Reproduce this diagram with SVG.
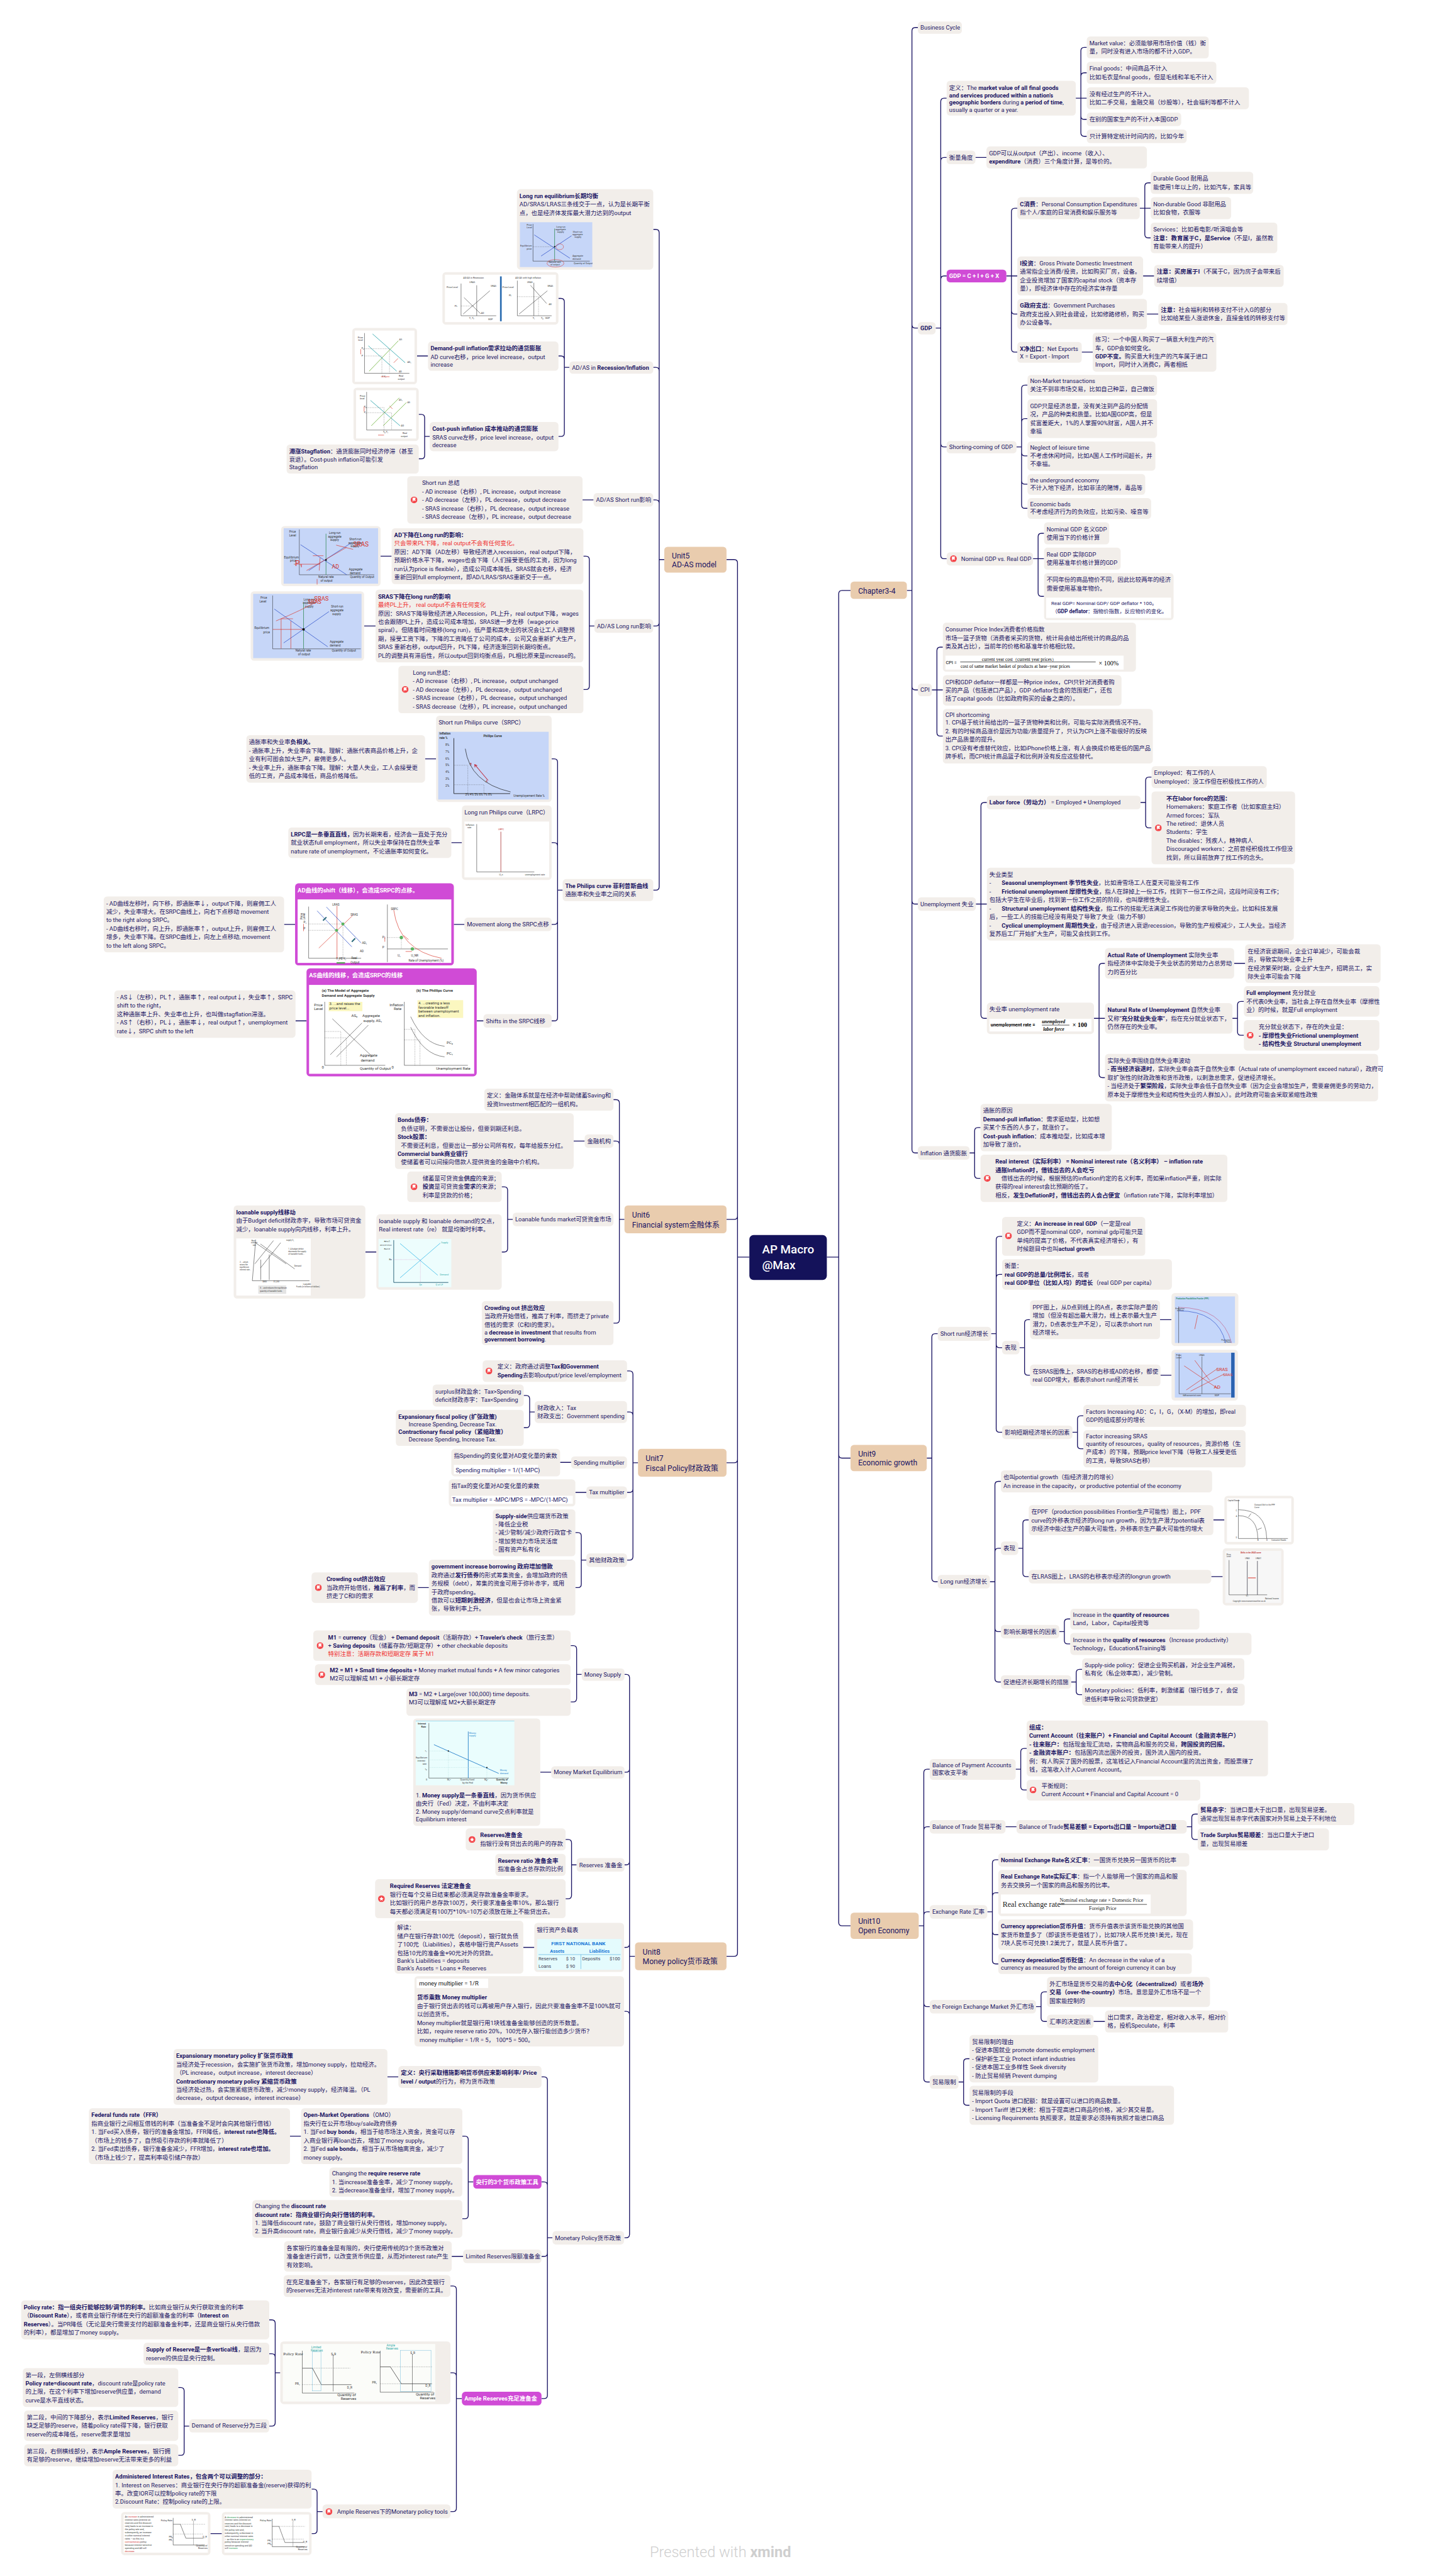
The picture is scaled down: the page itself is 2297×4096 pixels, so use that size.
<svg xmlns="http://www.w3.org/2000/svg" width="2297" height="4096" viewBox="0 0 2297 4096">
<style>
text{font-family:Roboto,"Noto Sans CJK SC",sans-serif;font-size:14px;fill:#1a1464}
.b{font-weight:700}
.n,.u,.p{rx:8px}
.n{fill:#f2eeea}.u{fill:#e9ccae}.p{fill:#d04bd6}
text.w,.w text{fill:#fff;font-weight:700}
.c{fill:none;stroke:#1a1464;stroke-width:2}
.r,text.r{fill:#f03030}
.h{font-size:18px}
.g text{fill:#333}
.f4 text,text.f4{font-size:4.5px}.f5 text,text.f5{font-size:5.5px}.f7 text,text.f7{font-size:7px}.f8 text,text.f8{font-size:8px}.f9 text,text.f9{font-size:9px}
.l{fill:none;stroke:#222;stroke-width:.8}.d{fill:none;stroke:#444;stroke-width:.6;stroke-dasharray:2 2}
.bl{fill:none;stroke:#2b4fc9;stroke-width:1.1}.gr{fill:none;stroke:#1b7d3a;stroke-width:1}.rd{fill:none;stroke:#d8352a;stroke-width:1}.te{fill:none;stroke:#2fa7ad;stroke-width:1.3}.lg{fill:none;stroke:#79b84a;stroke-width:1.3}
</style>
<defs>
<symbol id="flag" viewBox="0 0 16 16"><circle cx="8" cy="8" r="8" fill="#f4474b"/><path d="M5 12.500V3.500H11.500L10 6.500L11.500 9.500H5" fill="#fff" stroke="#fff"/></symbol>
<symbol id="star" viewBox="0 0 16 16"><circle cx="8" cy="8" r="8" fill="#f4474b"/><path d="M8 3l1.500 3.300 3.500.4-2.600 2.400.7 3.500L8 10.900 4.900 12.600l.7-3.500L3 6.700l3.500-.4z" fill="#fff"/></symbol>
</defs>
<rect width="2297" height="4096" fill="#fff"/>
<g transform="scale(0.673)">
<g id="connectors" class="c">
<path d="M1953 2970H1981M1981 1403V4542M2009 1395H1989Q1981 1395 1981 1403M1981 4542Q1981 4550 1989 4550H2009M1981 3437Q1981 3445 1989 3445H2009M1770 2970H1742M1742 1330V4614M1716 1322H1734Q1742 1322 1742 1330M1742 4614Q1742 4622 1734 4622H1716M1742 2873Q1742 2881 1734 2881H1716M1742 3448Q1742 3456 1734 3456H1716"/>
<path d="M2142 1395H2154M2154 73V2716M2168 65H2162Q2154 65 2154 73M2154 2716Q2154 2724 2162 2724H2168M2154 767Q2154 775 2162 775H2168M2154 1622Q2154 1630 2162 1630H2168M2154 2128Q2154 2136 2162 2136H2168"/>
<path d="M2210 775H2222M2222 240V1312M2236 232H2230Q2222 232 2222 240M2222 1312Q2222 1320 2230 1320H2236M2222 380Q2222 372 2230 372H2236M2222 660Q2222 652 2230 652H2236M2222 1048Q2222 1056 2230 1056H2236"/>
<path d="M2541 232H2567M2553 120V314M2567 112H2561Q2553 112 2553 120M2553 314Q2553 322 2561 322H2567M2553 180Q2553 172 2561 172H2567M2553 274Q2553 282 2561 282H2567"/>
<path d="M2304 372H2330M2377 652H2403M2389 500V824M2403 492H2397Q2389 492 2389 500M2389 824Q2389 832 2397 832H2403M2389 734Q2389 742 2397 742H2403"/>
<path d="M2692 492H2718M2704 440V554M2718 432H2712Q2704 432 2704 440M2704 554Q2704 562 2712 562H2718M2700 652H2726M2709 742H2736M2555 832H2581"/>
<path d="M2401 1056H2413M2413 918V1193M2427 910H2421Q2413 910 2413 918M2413 1193Q2413 1201 2421 1201H2427M2413 997Q2413 989 2421 989H2427M2413 1069Q2413 1077 2421 1077H2427M2413 1136Q2413 1144 2421 1144H2427"/>
<path d="M2440 1320H2466M2452 1268V1401M2466 1260H2460Q2452 1260 2452 1268M2452 1401Q2452 1409 2460 1409H2466"/>
<path d="M2201 1630H2227M2213 1537V1731M2227 1529H2221Q2213 1529 2213 1537M2213 1731Q2213 1739 2221 1739H2227"/>
<path d="M2305 2136H2331M2317 1904V2398M2331 1896H2325Q2317 1896 2317 1904M2317 2398Q2317 2406 2325 2406H2331"/>
<path d="M2694 1896H2706M2706 1844V1948M2720 1836H2714Q2706 1836 2706 1844M2706 1948Q2706 1956 2714 1956H2720"/>
<path d="M2584 2406H2610M2596 2284V2538M2610 2276H2604Q2596 2276 2596 2284M2596 2538Q2596 2546 2604 2546H2610M2915 2276H2941"/>
<path d="M2911 2406H2923M2923 2374V2438M2938 2366H2931Q2923 2366 2923 2374M2923 2438Q2923 2446 2931 2446H2938"/>
<path d="M2290 2724H2302M2302 2672V2776M2316 2664H2310Q2302 2664 2302 2672M2302 2776Q2302 2784 2310 2784H2316"/>
<path d="M2189 3445H2201M2201 3159V3729M2215 3151H2209Q2201 3151 2201 3159M2201 3729Q2201 3737 2209 3737H2215"/>
<path d="M2341 3151H2353M2353 2929V3376M2367 2921H2361Q2353 2921 2353 2929M2353 3376Q2353 3384 2361 3384H2367M2353 3019Q2353 3011 2361 3011H2367M2353 3176Q2353 3184 2361 3184H2367"/>
<path d="M2408 3184H2420M2420 3126V3241M2433 3118H2428Q2420 3118 2420 3126M2420 3241Q2420 3249 2428 3249H2433M2740 3118H2767M2741 3249H2767"/>
<path d="M2533 3384H2545M2545 3353V3415M2559 3345H2553Q2545 3345 2545 3353M2545 3415Q2545 3423 2553 3423H2559"/>
<path d="M2338 3737H2350M2350 3508V3966M2364 3500H2358Q2350 3500 2350 3508M2350 3966Q2350 3974 2358 3974H2364M2350 3666Q2350 3658 2358 3658H2364M2350 3847Q2350 3855 2358 3855H2364"/>
<path d="M2405 3658H2416M2416 3599V3717M2430 3591H2424Q2416 3591 2416 3599M2416 3717Q2416 3725 2424 3725H2430M2866 3591H2892M2861 3725H2888"/>
<path d="M2502 3855H2514M2514 3833V3876M2528 3825H2522Q2514 3825 2514 3833M2514 3876Q2514 3884 2522 3884H2528"/>
<path d="M2530 3974H2542M2542 3952V3996M2556 3944H2550Q2542 3944 2542 3952M2542 3996Q2542 4004 2550 4004H2556"/>
<path d="M2170 4550H2182M2182 4188V4911M2196 4180H2190Q2182 4180 2182 4188M2182 4911Q2182 4919 2190 4919H2196M2182 4324Q2182 4316 2190 4316H2196M2182 4525Q2182 4517 2190 4517H2196M2182 4733Q2182 4741 2190 4741H2196"/>
<path d="M2399 4180H2411M2411 4139V4221M2425 4131H2419Q2411 4131 2411 4139M2411 4221Q2411 4229 2419 4229H2425"/>
<path d="M2375 4316H2401M2803 4316H2815M2815 4294V4338M2829 4286H2823Q2815 4286 2815 4294M2815 4338Q2815 4346 2823 4346H2829"/>
<path d="M2332 4517H2344M2344 4402V4632M2358 4394H2352Q2344 4394 2344 4402M2344 4632Q2344 4640 2352 4640H2358M2344 4480Q2344 4472 2352 4472H2358M2344 4563Q2344 4571 2352 4571H2358"/>
<path d="M2447 4741H2459M2459 4714V4768M2473 4706H2467Q2459 4706 2459 4714M2459 4768Q2459 4776 2467 4776H2473M2583 4776H2610"/>
<path d="M2264 4919H2276M2276 4872V4966M2290 4864H2284Q2276 4864 2276 4872M2276 4966Q2276 4974 2284 4974H2290"/>
<path d="M1569 1322H1557M1557 550V2095M1543 542H1549Q1557 542 1557 550M1557 2095Q1557 2103 1549 2103H1543M1557 876Q1557 868 1549 868H1543M1557 1189Q1557 1181 1549 1181H1543M1557 1471Q1557 1479 1549 1479H1543"/>
<path d="M1345 868H1333M1333 713V1023M1319 705H1325Q1333 705 1333 713M1333 1023Q1333 1031 1325 1031H1319M1333 849Q1333 841 1325 841H1319M1011 841H985"/>
<path d="M1015 1031H1003M1003 987V1076M989 979H995Q1003 979 1003 987M1003 1076Q1003 1084 995 1084H989M1402 1181H1376"/>
<path d="M1404 1479H1392M1392 1322V1621M1378 1314H1384Q1392 1314 1392 1322M1392 1621Q1392 1629 1384 1629H1378M925 1314H899M887 1479H860"/>
<path d="M1329 2103H1317M1317 1801V2404M1303 1793H1309Q1317 1793 1317 1801M1317 2404Q1317 2412 1309 2412H1303M1317 1999Q1317 1991 1309 1991H1303M1317 2176Q1317 2184 1309 2184H1303"/>
<path d="M1030 1793H1004M1091 1991H1066M1097 2184H1072M697 2184H671M1142 2412H1126M724 2412H698"/>
<path d="M1475 2881H1463M1463 2606V3118M1449 2598H1455Q1463 2598 1463 2606M1463 3118Q1463 3126 1455 3126H1449M1463 2704Q1463 2696 1455 2696H1449M1381 2696H1355"/>
<path d="M1211 2881H1199M1199 2812V2950M1185 2804H1191Q1199 2804 1199 2812M1199 2950Q1199 2958 1191 2958H1185M889 2958H863"/>
<path d="M1507 3456H1495M1495 3247V3678M1481 3239H1487Q1495 3239 1495 3247M1495 3678Q1495 3686 1487 3686H1481M1495 3344Q1495 3336 1487 3336H1481M1495 3518Q1495 3526 1487 3526H1481"/>
<path d="M1263 3336H1251M1251 3305V3365M1237 3297H1243Q1251 3297 1251 3305M1251 3365Q1251 3373 1243 3373H1237M1349 3455H1323M1385 3526H1359"/>
<path d="M1385 3686H1373M1373 3629V3743M1359 3621H1365Q1373 3621 1373 3629M1373 3743Q1373 3751 1365 3751H1359M1013 3751H987"/>
<path d="M1500 4622H1487M1487 3964V5279M1475 3956H1479Q1487 3956 1487 3964M1487 5279Q1487 5287 1479 5287H1475M1487 4179Q1487 4187 1479 4187H1475M1487 4398Q1487 4406 1479 4406H1475M1487 4593Q1487 4601 1479 4601H1475M1487 4760Q1487 4752 1479 4752H1475"/>
<path d="M1374 3956H1362M1362 3896V4013M1348 3888H1354Q1362 3888 1362 3896M1362 4013Q1362 4021 1354 4021H1348M1302 4187H1276"/>
<path d="M1362 4406H1350M1350 4354V4478M1336 4346H1342Q1350 4346 1350 4354M1350 4478Q1350 4486 1342 4486H1336M1262 4601H1236"/>
<path d="M1305 5287H1293M1293 4915V5659M1279 4907H1285Q1293 4907 1293 4915M1293 5659Q1293 5667 1285 5667H1279M1293 5163Q1293 5155 1285 5155H1279M1293 5323Q1293 5331 1285 5331H1279M941 4907H915"/>
<path d="M1118 5155H1106M1106 5055V5234M1092 5047H1098Q1106 5047 1106 5055M1106 5234Q1106 5242 1098 5242H1092M711 5047H685M1094 5331H1067"/>
<path d="M1091 5667H1078M1078 5409V5926M1064 5401H1070Q1078 5401 1078 5409M1078 5926Q1078 5934 1070 5934H1064M1078 5614Q1078 5606 1070 5606H1064"/>
<path d="M662 5606H650M650 5489V5724M636 5481H642Q650 5481 650 5489M650 5724Q650 5732 642 5732H636M650 5569Q650 5561 642 5561H636"/>
<path d="M447 5732H435M435 5649V5793M421 5641H427Q435 5641 435 5649M435 5793Q435 5801 427 5801H421"/>
<path d="M762 5934H749M749 5889V5978M736 5881H741Q749 5881 749 5889M749 5978Q749 5986 741 5986H736M524 5986H497"/>
</g>

<g id="root"><rect x="1770" y="2918" width="183" height="106" rx="10" fill="#14125a"/><text class="w" x="1800" y="2962" style="font-size:28px;font-weight:500">AP Macro</text><text class="w" x="1800" y="2998" style="font-size:28px;font-weight:500">@Max</text></g>

<g id="ch34"><rect class="u" x="2009" y="1374" width="133" height="41"/><text class="h" x="2027" y="1402">Chapter3-4</text></g>
<g id="unit9"><rect class="u" x="2009" y="3414" width="180" height="62"/><text class="h" x="2027" y="3441">Unit9</text><text class="h" x="2027" y="3462">Economic growth</text></g>
<g id="unit10"><rect class="u" x="2009" y="4519" width="161" height="62"/><text class="h" x="2027" y="4546">Unit10</text><text class="h" x="2027" y="4567">Open Economy</text></g>
<g id="unit5"><rect class="u" x="1569" y="1292" width="147" height="61"/><text class="h" x="1587" y="1319">Unit5</text><text class="h" x="1587" y="1340">AD-AS model</text></g>
<g id="unit6"><rect class="u" x="1475" y="2848" width="241" height="66"/><text class="h" x="1493" y="2877">Unit6</text><text class="h" x="1493" y="2900">Financial system金融体系</text></g>
<g id="unit7"><rect class="u" x="1507" y="3423" width="209" height="66"/><text class="h" x="1525" y="3452">Unit7</text><text class="h" x="1525" y="3475">Fiscal Policy财政政策</text></g>
<g id="unit8"><rect class="u" x="1500" y="4589" width="216" height="66"/><text class="h" x="1518" y="4618">Unit8</text><text class="h" x="1518" y="4641">Money policy货币政策</text></g>

<g id="business"><rect class="n" x="2168" y="51" width="104" height="29"/><text x="2174" y="70">Business Cycle</text></g>
<g id="gdp"><rect class="n" x="2168" y="761" width="42" height="29"/><text class="b" x="2174" y="780">GDP</text></g>
<g id="gdp-def"><rect class="n" x="2236" y="191" width="305" height="82"/><text x="2242" y="212">定义：The <tspan class="b">market value of all final goods</tspan></text><text class="b" x="2242" y="230">and services produced within a nation's</text><text x="2242" y="247"><tspan class="b">geographic borders</tspan> during <tspan class="b">a period of time</tspan>,</text><text x="2242" y="265">usually a quarter or a year.</text></g>
<g id="d1"><rect class="n" x="2567" y="86" width="288" height="52"/><text x="2573" y="107">Market value：必须能够用市场价值（钱）衡</text><text x="2573" y="127">量，同时没有进入市场的都不计入GDP。</text></g>
<g id="d2"><rect class="n" x="2567" y="146" width="306" height="52"/><text x="2573" y="167">Final goods：中间商品不计入</text><text x="2573" y="187">比如毛衣是final goods，但是毛线和羊毛不计入</text></g>
<g id="d3"><rect class="n" x="2567" y="206" width="383" height="52"/><text x="2573" y="227">没有经过生产的不计入。</text><text x="2573" y="247">比如二手交易，金融交易（炒股等），社会福利等都不计入</text></g>
<g id="d4"><rect class="n" x="2567" y="266" width="223" height="32"/><text x="2573" y="287">在别的国家生产的不计入本国GDP</text></g>
<g id="d5"><rect class="n" x="2567" y="306" width="236" height="32"/><text x="2573" y="327">只计算特定统计时间内的，比如今年</text></g>
<g id="m1"><rect class="n" x="2236" y="356" width="68" height="32"/><text x="2242" y="377">衡量角度</text></g>
<g id="m2"><rect class="n" x="2330" y="346" width="379" height="52"/><text x="2336" y="367">GDP可以从output（产出）、income（收入）、</text><text x="2336" y="387"><tspan class="b">expenditure</tspan>（消费）三个角度计算，是等价的。</text></g>
<g id="formula"><rect class="p" x="2236" y="637" width="141" height="30"/><text class="w" x="2242" y="657">GDP = C + I + G + X</text></g>
<g id="c1"><rect class="n" x="2403" y="466" width="289" height="52"/><text x="2409" y="487"><tspan class="b">C消费</tspan>：Personal Consumption Expenditures</text><text x="2409" y="507">指个人/家庭的日常消费和娱乐服务等</text></g>
<g id="c2"><rect class="n" x="2718" y="406" width="242" height="52"/><text x="2724" y="427">Durable Good 耐用品</text><text x="2724" y="447">能使用1年以上的，比如汽车，家具等</text></g>
<g id="c3"><rect class="n" x="2718" y="466" width="190" height="52"/><text x="2724" y="487">Non-durable Good 非耐用品</text><text x="2724" y="507">比如食物，衣服等</text></g>
<g id="c4"><rect class="n" x="2718" y="526" width="299" height="72"/><text x="2724" y="547">Services：比如看电影/听演唱会等</text><text x="2724" y="567"><tspan class="b">注意：教育属于C，是Service</tspan>（不是I，虽然教</text><text x="2724" y="587">育能带来人的提升）</text></g>
<g id="i1"><rect class="n" x="2403" y="606" width="297" height="92"/><text x="2409" y="627"><tspan class="b">I投资</tspan>：Gross Private Domestic Investment</text><text x="2409" y="647">通常指企业消费/投资，比如购买厂房，设备。</text><text x="2409" y="667">企业投资增加了国家的capital stock（资本存</text><text x="2409" y="687">量），即经济体中存在的经济实体存量</text></g>
<g id="i2"><rect class="n" x="2726" y="626" width="306" height="52"/><text x="2732" y="647"><tspan class="b">注意：买房属于I</tspan>（不属于C，因为房子会带来后</text><text x="2732" y="667">续增值）</text></g>
<g id="g1"><rect class="n" x="2403" y="706" width="306" height="72"/><text x="2409" y="727"><tspan class="b">G政府支出</tspan>：Government Purchases</text><text x="2409" y="747">政府支出投入到社会建设，比如修路修桥，购买</text><text x="2409" y="767">办公设备等。</text></g>
<g id="g2"><rect class="n" x="2736" y="716" width="305" height="52"/><text x="2742" y="737"><tspan class="b">注意：</tspan>社会福利和转移支付不计入G的部分</text><text x="2742" y="757">比如给某些人涨退休金，直接金钱的转移支付等</text></g>
<g id="x1"><rect class="n" x="2403" y="808" width="152" height="49"/><text x="2409" y="829"><tspan class="b">X净出口</tspan>：Net Exports</text><text x="2409" y="847">X = Export - Import</text></g>
<g id="x2"><rect class="n" x="2581" y="786" width="292" height="92"/><text x="2587" y="807">练习：一个中国人购买了一辆意大利生产的汽</text><text x="2587" y="827">车，GDP会如何变化。</text><text x="2587" y="847"><tspan class="b">GDP不变。</tspan>购买意大利生产的汽车属于进口</text><text x="2587" y="867">Import，同时计入消费C，两者相抵</text></g>
<g id="sh"><rect class="n" x="2236" y="1042" width="165" height="29"/><text x="2242" y="1061">Shorting-coming of GDP</text></g>
<g id="s1"><rect class="n" x="2427" y="886" width="306" height="49"/><text x="2433" y="905">Non-Market transactions</text><text x="2433" y="924">关注不到非市场交易，比如自己种菜，自己做饭</text></g>
<g id="s2"><rect class="n" x="2427" y="943" width="306" height="92"/><text x="2433" y="964">GDP只是经济总量，没有关注到产品的分配情</text><text x="2433" y="984">况，产品的种类和质量。比如A国GDP高，但是</text><text x="2433" y="1004">贫富差距大，1%的人掌握90%财富，A国人并不</text><text x="2433" y="1024">幸福</text></g>
<g id="s3"><rect class="n" x="2427" y="1043" width="302" height="69"/><text x="2433" y="1062">Neglect of leisure time</text><text x="2433" y="1081">不考虑休闲时间，比如A国人工作时间超长，并</text><text x="2433" y="1101">不幸福。</text></g>
<g id="s4"><rect class="n" x="2427" y="1120" width="278" height="49"/><text x="2433" y="1139">the underground economy</text><text x="2433" y="1157">不计入地下经济，比如非法的赌博，毒品等</text></g>
<g id="s5"><rect class="n" x="2427" y="1177" width="292" height="49"/><text x="2433" y="1196">Economic bads</text><text x="2433" y="1214">不考虑经济行为的负效应，比如污染、噪音等</text></g>
<g id="nom"><rect class="n" x="2236" y="1305" width="204" height="31"/><use href="#flag" x="2244" y="1312" width="16" height="16"/><text x="2270" y="1325">Nominal GDP vs. Real GDP</text></g>
<g id="nom1"><rect class="n" x="2466" y="1234" width="154" height="52"/><text x="2472" y="1255">Nominal GDP 名义GDP</text><text x="2472" y="1275">使用当下的价格计算</text></g>
<g id="nom2"><rect class="n" x="2466" y="1294" width="181" height="52"/><text x="2472" y="1315">Real GDP 实际GDP</text><text x="2472" y="1335">使用基准年价格计算的GDP</text></g>
<g id="nom3"><rect class="n" x="2466" y="1354" width="306" height="111"/><text x="2472" y="1375">不同年份的商品物价不同，因此比较两年的经济</text><text x="2472" y="1395">需要使用基准年物价。</text><rect x="2471" y="1412" width="295" height="48" fill="#fff"/><text x="2483" y="1429" style="font-size:12px">Real GDP= Nominal GDP/ GDP deflator * 100。</text><text x="2485" y="1448" style="font-size:12.500px">（<tspan class="b">GDP deflator</tspan>：指物价指数，反应物价的变化。</text></g>
<g id="cpi"><rect class="n" x="2168" y="1615" width="33" height="30"/><text x="2174" y="1635">CPI</text></g>
<g id="cpi1"><rect class="n" x="2227" y="1471" width="456" height="116"/><text x="2233" y="1492">Consumer Price Index消费者价格指数</text><text x="2233" y="1512">市场一篮子货物（消费者采买的货物，统计局会给出所统计的商品的品</text><text x="2233" y="1532">类及其占比），当前年的价格和基准年价格相比较。</text><rect x="2233" y="1549" width="421" height="33" fill="#fff"/><text x="2234" y="1569" style="font-size:11px;fill:#000">CPI =</text><path d="M2268 1564H2588" stroke="#000"/><text x="2319" y="1561" style="font-family:'Liberation Serif',serif;font-size:11px;fill:#000">current year cost（current year prices）</text><text x="2269" y="1578" style="font-family:'Liberation Serif',serif;font-size:11px;fill:#000">cost of same market basket of products at base−year prices</text><text x="2595" y="1572" style="font-family:'Liberation Serif',serif;fill:#000;font-size:15px">× 100%</text></g>
<g id="cpi2"><rect class="n" x="2227" y="1595" width="422" height="72"/><text x="2233" y="1616">CPI和GDP deflator一样都是一种price index，CPI只针对消费者购</text><text x="2233" y="1636">买的产品（包括进口产品），GDP deflator包含的范围更广，还包</text><text x="2233" y="1656">括了capital goods（比如政府购买的设备之类的）。</text></g>
<g id="cpi3"><rect class="n" x="2227" y="1675" width="496" height="129"/><text x="2233" y="1694">CPI shortcoming</text><text x="2233" y="1712">1. CPI基于统计局给出的一篮子货物种类和比例，可能与实际消费情况不符。</text><text x="2233" y="1732">2. 有的时候商品涨价是因为功能/质量提升了，只认为CPI上涨不能很好的反映</text><text x="2233" y="1752">出产品质量的提升。</text><text x="2233" y="1772">3. CPI没有考虑替代效应，比如iPhone价格上涨，有人会换成价格更低的国产品</text><text x="2233" y="1792">牌手机，而CPI统计商品篮子和比例并没有反应这些替代。</text></g>
<g id="un"><rect class="n" x="2168" y="2120" width="137" height="32"/><text x="2174" y="2141">Unemployment 失业</text></g>
<g id="lab"><rect class="n" x="2331" y="1880" width="363" height="32"/><text x="2337" y="1901"><tspan class="b">Labor force（劳动力）</tspan> = Employed + Unemployed</text></g>
<g id="lab1"><rect class="n" x="2720" y="1810" width="272" height="52"/><text x="2726" y="1831">Employed：有工作的人</text><text x="2726" y="1851">Unemployed：没工作但在积极找工作的人</text></g>
<g id="lab2"><rect class="n" x="2720" y="1870" width="339" height="172"/><use href="#flag" x="2728" y="1948" width="16" height="16"/><text class="b" x="2755" y="1891">不在labor force的范围：</text><text x="2755" y="1911">Homemakers：家庭工作者（比如家庭主妇）</text><text x="2755" y="1931">Armed forces：军队</text><text x="2755" y="1951">The retired：退休人员</text><text x="2755" y="1971">Students：学生</text><text x="2755" y="1991">The disables：残疾人，精神病人</text><text x="2755" y="2011">Discouraged workers：之前曾经积极找工作但没</text><text x="2755" y="2031">找到，所以目前放弃了找工作的念头。</text></g>
<g id="ty"><rect class="n" x="2331" y="2050" width="725" height="172"/><text x="2337" y="2071">失业类型</text><text x="2337" y="2091">-</text><text x="2366" y="2091"><tspan class="b">Seasonal unemployment 季节性失业</tspan>，比如滑雪场工人在夏天可能没有工作</text><text x="2337" y="2111">-</text><text x="2366" y="2111"><tspan class="b">Frictional unemployment 摩擦性失业</tspan>，指人在辞掉上一份工作，找到下一份工作之间，这段时间没有工作；</text><text x="2337" y="2131">包括大学生在毕业后，找到第一份工作之前的阶段，也叫摩擦性失业。</text><text x="2337" y="2151">-</text><text x="2366" y="2151"><tspan class="b">Structural unemployment 结构性失业</tspan>，指工作的技能无法满足工作岗位的要求导致的失业。比如科技发展</text><text x="2337" y="2171">后，一些工人的技能已经没有用处了导致了失业（能力不够）</text><text x="2337" y="2191">-</text><text x="2366" y="2191"><tspan class="b">Cyclical unemployment 周期性失业</tspan>，由于经济进入衰退recession，导致的生产规模减少，工人失业。当经济</text><text x="2337" y="2211">复苏后工厂开始扩大生产，可能又会找到工作。</text></g>
<g id="ur"><rect class="n" x="2331" y="2369" width="253" height="74"/><text x="2337" y="2390">失业率 unemployment rate</text><rect x="2337" y="2407" width="241" height="30" fill="#fff"/><text x="2340" y="2425" style="font-size:11px;font-weight:700;fill:#000">unemployment rate =</text><text x="2461" y="2418" style="font-family:'Liberation Serif',serif;font-style:italic;font-weight:700;font-size:11px;fill:#000">unemployed</text><text x="2464" y="2435" style="font-family:'Liberation Serif',serif;font-style:italic;font-weight:700;font-size:11px;fill:#000">labor force</text><path d="M2461 2422H2526" stroke="#000"/><text x="2533" y="2427" style="font-family:'Liberation Serif',serif;font-weight:700;font-size:15px;fill:#000">× 100</text></g>
<g id="ur1"><rect class="n" x="2610" y="2240" width="305" height="72"/><text x="2616" y="2261"><tspan class="b">Actual Rate of Unemployment</tspan> 实际失业率</text><text x="2616" y="2281">指经济体中实际处于失业状态的劳动力占总劳动</text><text x="2616" y="2301">力的百分比</text></g>
<g id="ur1a"><rect class="n" x="2941" y="2231" width="320" height="91"/><text x="2947" y="2252">在经济衰退期间，企业订单减少，可能会裁</text><text x="2947" y="2272">员，导致实际失业率上升</text><text x="2947" y="2292">在经济繁荣时期，企业扩大生产，招聘员工，实</text><text x="2947" y="2312">际失业率可能会下降</text></g>
<g id="ur2"><rect class="n" x="2610" y="2370" width="301" height="72"/><text x="2616" y="2391"><tspan class="b">Natural Rate of Unemployment</tspan> 自然失业率</text><text x="2616" y="2411">又称“<tspan class="b">充分就业失业率</tspan>”，指在充分就业状态下，</text><text x="2616" y="2431">仍然存在的失业率。</text></g>
<g id="ur2a"><rect class="n" x="2938" y="2330" width="320" height="72"/><text x="2944" y="2351"><tspan class="b">Full employment</tspan> 充分就业</text><text x="2944" y="2371">不代表0失业率，当社会上存在自然失业率（摩擦性</text><text x="2944" y="2391">业）的时候，就是Full employment</text></g>
<g id="ur2b"><rect class="n" x="2938" y="2410" width="320" height="72"/><use href="#flag" x="2945" y="2438" width="16" height="16"/><text x="2973" y="2431">充分就业状态下，存在的失业是：</text><text class="b" x="2973" y="2451">- 摩擦性失业Frictional unemployment</text><text class="b" x="2973" y="2471">- 结构性失业 Structural unemployment</text></g>
<g id="ur3"><rect class="n" x="2610" y="2490" width="645" height="112"/><text x="2616" y="2511">实际失业率围绕自然失业率波动</text><text x="2616" y="2531">- <tspan class="b">而当经济衰退时</tspan>，实际失业率会高于自然失业率（Actual rate of unemployment exceed natural），政府可</text><text x="2616" y="2551">取扩张性的财政政策和货币政策，以刺激总需求，促进经济增长。</text><text x="2616" y="2571">- 当经济处于<tspan class="b">繁荣阶段</tspan>，实际失业率会低于自然失业率（因为企业会增加生产，需要雇佣更多的劳动力，</text><text x="2616" y="2591">原本处于摩擦性失业和结构性失业的人群加入）。此时政府可能会采取紧缩性政策</text></g>
<g id="inf"><rect class="n" x="2168" y="2708" width="122" height="32"/><text x="2174" y="2729">Inflation 通货膨胀</text></g>
<g id="inf1"><rect class="n" x="2316" y="2608" width="310" height="112"/><text x="2322" y="2629">通胀的原因</text><text x="2322" y="2649"><tspan class="b">Demand-pull inflation</tspan>：需求驱动型，比如想</text><text x="2322" y="2669">买某个东西的人多了，就涨价了。</text><text x="2322" y="2689"><tspan class="b">Cost-push inflation</tspan>：成本推动型，比如成本增</text><text x="2322" y="2709">加导致了涨价。</text></g>
<g id="inf2"><rect class="n" x="2316" y="2728" width="583" height="112"/><use href="#flag" x="2324" y="2776" width="16" height="16"/><text class="b" x="2351" y="2749">Real interest（实际利率） =  Nominal interest rate（名义利率） – inflation rate</text><text class="b" x="2351" y="2769">通胀Inflation时，借钱出去的人会吃亏</text><text x="2351" y="2789">　借钱出去的时候，根据预估的inflation约定的名义利率，而如果inflation严重，则实际</text><text x="2351" y="2809">获得的real interest会比预期的低了。</text><text x="2351" y="2829">相反，<tspan class="b">发生Deflation时，借钱出去的人会占便宜</tspan>（inflation rate下降，实际利率增加）</text></g>
<g id="sr"><rect class="n" x="2215" y="3135" width="126" height="33"/><text x="2221" y="3156">Short run经济增长</text></g>
<g id="sr1"><rect class="n" x="2367" y="2875" width="338" height="92"/><use href="#flag" x="2374" y="2912" width="16" height="16"/><text x="2402" y="2896">定义：<tspan class="b">An increase in real GDP</tspan>（一定是real</text><text x="2402" y="2916">GDP而不是nominal GDP，nominal gdp可能只是</text><text x="2402" y="2936">单纯的提高了价格，不代表真实经济增长），有</text><text x="2402" y="2956">时候题目中也叫<tspan class="b">actual growth</tspan></text></g>
<g id="sr2"><rect class="n" x="2367" y="2975" width="401" height="72"/><text x="2373" y="2996">衡量：</text><text x="2373" y="3016"><tspan class="b">real GDP的总量/比例增长</tspan>，或者</text><text x="2373" y="3036"><tspan class="b">real GDP单位（比如人均）的增长</tspan>（real GDP per capita）</text></g>
<g id="sr3"><rect class="n" x="2367" y="3168" width="41" height="32"/><text x="2373" y="3189">表现</text></g>
<g id="sr3a"><rect class="n" x="2433" y="3072" width="307" height="92"/><text x="2439" y="3093">PPF图上，从D点到线上的A点，表示实际产量的</text><text x="2439" y="3113">增加（但没有超出最大潜力，线上表示最大生产</text><text x="2439" y="3133">潜力，D点表示生产不足），可以表示short run</text><text x="2439" y="3153">经济增长。</text></g>
<g id="sr3b"><rect class="n" x="2433" y="3224" width="308" height="51"/><text x="2439" y="3245">在SRAS图像上，SRAS的右移或AD的右移，都使</text><text x="2439" y="3265">real GDP增大，都表示short run经济增长</text></g>
<g id="img-ppf1" class="g f4" transform="translate(2767,3055)"><rect class="n" width="158" height="125"/><rect x="8" y="8" width="142" height="110" fill="#c4d6fa"/><text x="11" y="15" style="font-weight:700;fill:#2a8a66">Production Possibilities Frontier (PPF)</text><text x="9" y="38">Production</text><text x="13" y="43">of Pizza</text><text x="118" y="113">Production</text><text x="124" y="117">of Pasta</text><path class="l" d="M17 32V118"/><path d="M17 42Q110 42 128 118" fill="none" stroke="#2b4fc9"/><path d="M17 34Q120 34 142 118" fill="none" stroke="#c2305a" stroke-width=".7"/><path class="rd" d="M55 85L62 52"/></g>
<g id="img-sras" class="g f5" transform="translate(2767,3189)"><rect class="n" width="157" height="120"/><rect x="8" y="7" width="142" height="106" fill="#c4d6fa"/><rect x="141" y="7" width="8" height="106" fill="#2a62b0"/><text x="11" y="15">Price</text><text x="11" y="21">Level</text><text x="65" y="14">LRAS</text><text x="27" y="110">tbEconomist.com</text><text x="102" y="110">GDP</text><path class="l" d="M18 10V104H140"/><path d="M72 16V104" stroke="#333" fill="none" stroke-width=".8"/><path class="rd" d="M30 38L110 92M35 95L108 45M45 98L125 57M55 25L90 72"/><text x="106" y="50" style="font-size:11px;fill:#d8352a">SRAS</text><text x="122" y="62" style="font-size:9px;fill:#d8352a">SRAS</text><text x="100" y="92" style="font-size:12px;fill:#d8352a">AD</text></g>
<g id="sf"><rect class="n" x="2367" y="3368" width="166" height="32"/><text x="2373" y="3389">影响短期经济增长的因素</text></g>
<g id="sf1"><rect class="n" x="2559" y="3319" width="384" height="52"/><text x="2565" y="3340">Factors Increasing AD：C，I，G，（X-M）的增加，即real</text><text x="2565" y="3360">GDP的组成部分的增长</text></g>
<g id="sf2"><rect class="n" x="2559" y="3379" width="383" height="88"/><text x="2565" y="3398">Factor increasing SRAS</text><text x="2565" y="3416">quantity of resources，quality of resources，资源价格（生</text><text x="2565" y="3436">产成本）的下降，预期price level下降（导致工人接受更低</text><text x="2565" y="3456">的工资，导致SRAS右移）</text></g>
<g id="lr"><rect class="n" x="2215" y="3721" width="123" height="32"/><text x="2221" y="3742">Long run经济增长</text></g>
<g id="lr1"><rect class="n" x="2364" y="3474" width="499" height="52"/><text x="2370" y="3495">也叫potential growth（指经济潜力的增长）</text><text x="2370" y="3515">An increase in the capacity，or productive potential of the economy</text></g>
<g id="lr2"><rect class="n" x="2364" y="3642" width="41" height="32"/><text x="2370" y="3663">表现</text></g>
<g id="lr2a"><rect class="n" x="2430" y="3556" width="436" height="71"/><text x="2436" y="3577">在PPF（production possibilities Frontier生产可能性）图上，PPF</text><text x="2436" y="3597">curve的外移表示经济的long run growth，因为生产潜力potential表</text><text x="2436" y="3617">示经济中能过生产的最大可能性，外移表示生产最大可能性的增大</text></g>
<g id="lr2b"><rect class="n" x="2430" y="3709" width="431" height="32"/><text x="2436" y="3730">在LRAS图上，LRAS的右移表示经济的longrun growth</text></g>
<g id="img-ppf2" class="g f4" transform="translate(2892,3534)"><rect class="n" width="164" height="115"/><rect x="6" y="6" width="152" height="103" fill="#fff"/><text x="8" y="13">Capital Goods</text><text x="71" y="23">Outward Shift in the PPF</text><text x="71" y="29">Curve</text><text x="27" y="37">C</text><text x="27" y="50">A</text><text x="27" y="100">0</text><text x="78" y="106">B</text><text x="99" y="106">D</text><text x="111" y="106">Consumer Goods</text><path class="l" d="M33 10V101H150"/><path class="l" d="M33 47Q78 47 79 101M33 33Q98 33 100 101"/><path class="l" d="M57 50L63 42M78 80L88 76"/></g>
<g id="img-lras" class="g f4" transform="translate(2888,3658)"><rect class="n" width="144" height="135"/><rect x="6" y="6" width="132" height="123" fill="#f7f7f7"/><text x="42" y="12" style="fill:#c03030;font-weight:700">Shifts in the LRAS curve</text><text x="9" y="16">Price</text><text x="9" y="21">Level</text><text x="53" y="26">LRAS</text><text x="78" y="26">LRAS1</text><text x="55" y="114">Y1</text><text x="100" y="121">National Income</text><text x="24" y="126">Copyright www.economicsonline.co.uk</text><path class="l" d="M15 28V110H105"/><path d="M58 30V110M82 30V110" stroke="#223" fill="none"/><path d="M60 70H78" stroke="#d8352a" stroke-width="1.500"/></g>
<g id="lf"><rect class="n" x="2364" y="3839" width="138" height="32"/><text x="2370" y="3860">影响长期增长的因素</text></g>
<g id="lf1"><rect class="n" x="2528" y="3801" width="305" height="49"/><text x="2534" y="3820">Increase in the <tspan class="b">quantity of resources</tspan></text><text x="2534" y="3839">Land，Labor，Capital投资等</text></g>
<g id="lf2"><rect class="n" x="2528" y="3858" width="428" height="52"/><text x="2534" y="3879">Increase in the <tspan class="b">quality of resources</tspan>（Increase productivity）</text><text x="2534" y="3899">Technology，Education&amp;Training等</text></g>
<g id="lp"><rect class="n" x="2364" y="3958" width="166" height="32"/><text x="2370" y="3979">促进经济长期增长的措施</text></g>
<g id="lp1"><rect class="n" x="2556" y="3918" width="383" height="52"/><text x="2562" y="3939">Supply-side policy：促进企业购买机器，对企业生产减税，</text><text x="2562" y="3959">私有化（私企效率高），减少管制。</text></g>
<g id="lp2"><rect class="n" x="2556" y="3978" width="384" height="52"/><text x="2562" y="3999">Monetary policies：低利率，刺激储蓄（银行钱多了，会促</text><text x="2562" y="4019">进低利率导致公司贷款便宜）</text></g>
<g id="bop"><rect class="n" x="2196" y="4156" width="203" height="49"/><text x="2202" y="4175">Balance of Payment Accounts</text><text x="2202" y="4193">国家收支平衡</text></g>
<g id="bop1"><rect class="n" x="2425" y="4065" width="570" height="132"/><text class="b" x="2431" y="4086">组成：</text><text class="b" x="2431" y="4106">Current Account（往来账户）+ Financial and Capital Account（金融资本账户）</text><text x="2431" y="4126"><tspan class="b">- 往来账户：</tspan>包括现金现汇流动，实物商品和服务的交易，<tspan class="b">跨国投资的回报。</tspan></text><text x="2431" y="4146"><tspan class="b">- 金融资本账户：</tspan>包括国内流出国外的投资，国外流入国内的投资。</text><text x="2431" y="4166">例：有人购买了国外的股票，这笔钱记入Financial Account里的流出资金，而股票赚了</text><text x="2431" y="4186">钱，这笔收入计入Current Account。</text></g>
<g id="bop2"><rect class="n" x="2425" y="4205" width="410" height="49"/><use href="#flag" x="2432" y="4221" width="16" height="16"/><text x="2460" y="4225">平衡规则：</text><text x="2460" y="4244">Current Account + Financial and Capital Account = 0</text></g>
<g id="bt"><rect class="n" x="2196" y="4300" width="179" height="32"/><text x="2202" y="4321">Balance of Trade 贸易平衡</text></g>
<g id="bt1"><rect class="n" x="2401" y="4300" width="402" height="32"/><text x="2407" y="4321">Balance of Trade<tspan class="b">贸易差额 = Exports出口量 – Imports进口量</tspan></text></g>
<g id="bt2"><rect class="n" x="2829" y="4260" width="370" height="52"/><text x="2835" y="4281"><tspan class="b">贸易赤字</tspan>：当进口量大于出口量，出现贸易逆差。</text><text x="2835" y="4301">通常出现贸易赤字代表国家对外贸易上处于不利地位</text></g>
<g id="bt3"><rect class="n" x="2829" y="4320" width="310" height="52"/><text x="2835" y="4341"><tspan class="b">Trade Surplus贸易顺差</tspan>：当出口量大于进口</text><text x="2835" y="4361">量，出现贸易顺差</text></g>
<g id="er"><rect class="n" x="2196" y="4501" width="136" height="32"/><text x="2202" y="4522">Exchange Rate 汇率</text></g>
<g id="er1"><rect class="n" x="2358" y="4378" width="451" height="32"/><text x="2364" y="4399"><tspan class="b">Nominal Exchange Rate名义汇率</tspan>：一国货币兑换另一国货币的比率</text></g>
<g id="er2"><rect class="n" x="2358" y="4418" width="445" height="109"/><text x="2364" y="4439"><tspan class="b">Real Exchange Rate实际汇率</tspan>：指一个人能够用一个国家的商品和服</text><text x="2364" y="4459">务去交换另一个国家的商品和服务的比率。</text><rect x="2364" y="4476" width="354" height="45" fill="#fff"/><text x="2368" y="4505" style="font-family:'Liberation Serif',serif;font-size:18px;fill:#222">Real exchange rate=</text><text x="2503" y="4494" style="font-family:'Liberation Serif',serif;font-size:12px;fill:#222">Nominal exchange rate × Domestic Price</text><text x="2572" y="4513" style="font-family:'Liberation Serif',serif;font-size:12px;fill:#222">Foreign Price</text><path d="M2503 4499.500H2709" stroke="#000"/></g>
<g id="er3"><rect class="n" x="2358" y="4535" width="460" height="72"/><text x="2364" y="4556"><tspan class="b">Currency appreciation货币升值</tspan>：货币升值表示该货币能兑换的其他国</text><text x="2364" y="4576">家货币数量多了（即该货币更值钱了），比如7块人民币兑换1美元，现在</text><text x="2364" y="4596">7块人民币可兑换1.2美元了，就是人民币升值了。</text></g>
<g id="er4"><rect class="n" x="2358" y="4615" width="457" height="49"/><text x="2364" y="4636"><tspan class="b">Currency depreciation货币贬值</tspan>：An decrease in the value of a</text><text x="2364" y="4654">currency as measured by the amount of foreign currency it can buy</text></g>
<g id="fx"><rect class="n" x="2196" y="4725" width="251" height="32"/><text x="2202" y="4746">the Foreign Exchange Market 外汇市场</text></g>
<g id="fx1"><rect class="n" x="2473" y="4671" width="385" height="71"/><text x="2479" y="4692">外汇市场是货币交易的<tspan class="b">去中心化（decentralized）</tspan>或者<tspan class="b">场外</tspan></text><text x="2479" y="4712"><tspan class="b">交易（over-the-country）</tspan>市场。意思是外汇市场不是一个</text><text x="2479" y="4732">国家能控制的</text></g>
<g id="fx2"><rect class="n" x="2473" y="4760" width="110" height="32"/><text x="2479" y="4781">汇率的决定因素</text></g>
<g id="fx3"><rect class="n" x="2610" y="4750" width="291" height="52"/><text x="2616" y="4771">出口需求，政治稳定，相对收入水平，相对价</text><text x="2616" y="4791">格，投机Speculate，利率</text></g>
<g id="tr"><rect class="n" x="2196" y="4903" width="68" height="32"/><text x="2202" y="4924">贸易限制</text></g>
<g id="tr1"><rect class="n" x="2290" y="4808" width="304" height="112"/><text x="2296" y="4829">贸易限制的理由</text><text x="2296" y="4849">- 促进本国就业 promote domestic employment</text><text x="2296" y="4869">- 保护新生工业 Protect infant industries</text><text x="2296" y="4889">- 促进本国工业多样性 Seek diversity</text><text x="2296" y="4909">- 防止贸易倾销 Prevent dumping</text></g>
<g id="tr2"><rect class="n" x="2290" y="4928" width="483" height="92"/><text x="2296" y="4949">贸易限制的手段</text><text x="2296" y="4969">- Import Quota 进口配额：就是设置可以进口的商品数量。</text><text x="2296" y="4989">- Import Tariff 进口关税：相当于提高进口商品的价格，减少其交易量。</text><text x="2296" y="5009">- Licensing Requirements 执照要求，就是要求必须持有执照才能进口商品</text></g>

<g id="eq"><rect class="n" x="1221" y="447" width="322" height="190"/><text class="b" x="1227" y="468">Long run equilibrium长期均衡</text><text x="1227" y="488">AD/SRAS/LRAS三条线交于一点，认为是长期平衡</text><text x="1227" y="508">点，也是经济体发挥最大潜力达到的output</text></g>
<g class="g f5" transform="translate(1228,525)"><rect width="171" height="106" fill="#c6d6f8"/><text x="16" y="9">Price</text><text x="16" y="15">Level</text><text x="86" y="13">Long-run</text><text x="84" y="19">aggregate</text><text x="88" y="25">supply</text><text x="125" y="25">Short-run</text><text x="124" y="31">aggregate</text><text x="129" y="37">supply</text><text x="1" y="58">Equilibrium</text><text x="16" y="65">price</text><text x="124" y="81">Aggregate</text><text x="124" y="88">demand</text><text x="127" y="99">Quantity of Output</text><text x="68" y="96">Natural rate</text><text x="72" y="102">of output</text><path class="l" d="M31 4V92H165"/><path class="gr" d="M82 15V92"/><path class="bl" d="M50 80L122 32M34 30L118 85"/><path class="d" d="M31 58H82"/><ellipse cx="94" cy="58" rx="9" ry="7" fill="none" stroke="#d8352a" stroke-width=".8"/><ellipse cx="84" cy="97" rx="20" ry="9" fill="none" stroke="#d8352a" stroke-width=".8"/><circle cx="82" cy="58" r="1.500"/></g>
<g id="ad-img" class="g f5" transform="translate(1045,643)"><rect class="n" width="274" height="124"/><rect x="6" y="6" width="262" height="112" fill="#fff"/><text x="49" y="15">AD/AS in Recession</text><text x="64" y="26">LRAS</text><text x="10" y="37">Price Level</text><text x="29" y="82">PL</text><text x="114" y="35">SRAS</text><text x="91" y="98">AD</text><text x="63" y="111">Y₁ Y₇</text><text x="108" y="113">GDP</text><path class="l" d="M44 27V103H127M81 31V103M49 99L112 44M51 60L90 98"/><path class="d" d="M44 80H76"/><rect x="136" y="10" width="4" height="106" fill="#2a6cb0"/><text x="172" y="15">AD/AS with high inflation</text><text x="200" y="26">LRAS</text><text x="142" y="37">Price Level</text><text x="157" y="57">PL</text><text x="248" y="35">SRAS</text><text x="251" y="77">AD</text><text x="213" y="111">Y₁</text><text x="233" y="111">Y₂</text><text x="243" y="111">GDP</text><path class="l" d="M177 20V103H258M216 25V103M181 99L248 44M208 31L246 74"/><path class="d" d="M177 58H227V103"/></g>
<g id="adas"><rect class="n" x="1345" y="854" width="198" height="29"/><text x="1351" y="873">AD/AS in <tspan class="b">Recession/Inflation</tspan></text></g>
<g id="dp"><rect class="n" x="1011" y="807" width="308" height="69"/><text class="b" x="1017" y="828">Demand-pull inflation需求拉动的通货膨胀</text><text x="1017" y="848">AD curve右移，price level increase，output</text><text x="1017" y="866">increase</text></g>
<g class="g f5" transform="translate(832,775)"><rect class="n" width="153" height="133"/><rect x="6" y="6" width="141" height="121" fill="#fff"/><text x="13" y="24">Price</text><text x="14" y="31">level</text><text x="22" y="49">P₂</text><text x="22" y="67">P</text><text x="70" y="117">Y Y₁</text><text x="110" y="115">Real</text><text x="108" y="122">output</text><text x="111" y="29">AS</text><text x="130" y="82">AD₁</text><text x="110" y="105">AD</text><path class="l" d="M29 12V107H135"/><path class="te" d="M48 14L125 82M38 42L105 102"/><path class="lg" d="M40 102L109 30"/><path class="d" d="M29 49H88V107M29 66H70V107"/><path class="rd" d="M98 82L108 72M20 62V50M68 115H88" stroke-width=".7"/></g>
<g id="cp"><rect class="n" x="1015" y="997" width="304" height="69"/><text class="b" x="1021" y="1018">Cost-push inflation 成本推动的通货膨胀</text><text x="1021" y="1038">SRAS curve左移，price level increase，output</text><text x="1021" y="1056">decrease</text></g>
<g class="g f5" transform="translate(835,916)"><rect class="n" width="154" height="126"/><rect x="6" y="6" width="142" height="114" fill="#fff"/><text x="15" y="21">Price</text><text x="15" y="28">level</text><text x="25" y="47">P₂</text><text x="25" y="60">P₁</text><text x="70" y="107">Y₂ Y₁</text><text x="116" y="109">Real</text><text x="112" y="116">output</text><text x="107" y="31">AS₁</text><text x="127" y="37">AS</text><text x="112" y="92">AD</text><path class="l" d="M31 10V100H138"/><path class="te" d="M40 30L110 90"/><path class="lg" d="M42 90L108 24M70 90L125 35"/><path class="d" d="M31 59H90V100M31 47H72V100"/><path class="rd" d="M92 50L85 43M25 56V45M72 112H58" stroke-width=".7"/></g>
<g id="stag"><rect class="n" x="677" y="1050" width="312" height="69"/><text x="683" y="1071"><tspan class="b">滞涨Stagflation</tspan>：通货膨胀同时经济停滞（甚至</text><text x="683" y="1091">衰退）。Cost-push inflation可能引发</text><text x="683" y="1109">Stagflation</text></g>
<g id="srs"><rect class="n" x="962" y="1125" width="414" height="112"/><use href="#flag" x="970" y="1173" width="16" height="16"/><text x="997" y="1146">Short run 总结</text><text x="997" y="1166">- AD increase（右移）, PL increase，output increase</text><text x="997" y="1186">- AD decrease（左移），PL decrease，output decrease</text><text x="997" y="1206">- SRAS increase（右移），PL decrease，output increase</text><text x="997" y="1226">- SRAS decrease（左移），PL increase，output decrease</text></g>
<g id="srsh"><rect class="n" x="1402" y="1165" width="141" height="32"/><text x="1408" y="1186">AD/AS Short run影响</text></g>
<g id="adlr"><rect class="n" x="925" y="1248" width="453" height="132"/><text class="b" x="931" y="1269">AD下降在Long run的影响：</text><text class="r" x="931" y="1289">只会带来PL下降，real output不会有任何变化。</text><text x="931" y="1309">原因：AD下降（AD左移）导致经济进入recession，real output下降，</text><text x="931" y="1329">预期价格水平下降，wages也会下降（人们接受更低的工资，因为long</text><text x="931" y="1349">run认为price is flexible），造成公司成本降低，SRAS就会右移，经济</text><text x="931" y="1369">重新回到full employment，即AD/LRAS/SRAS重新交于一点。</text></g>
<g class="g f7" transform="translate(664,1243)"><rect class="n" width="235" height="142"/><rect x="6" y="5" width="223" height="131" fill="#c6d6f8"/><text x="19" y="16">Price</text><text x="19" y="24">Level</text><text x="113" y="19">Long-run</text><text x="111" y="27">aggregate</text><text x="116" y="35">supply</text><text x="161" y="34">Short-run</text><text x="159" y="42">aggregate</text><text x="164" y="50">supply</text><text x="7" y="76">Equilibrium</text><text x="21" y="84">price</text><text x="160" y="105">Aggregate</text><text x="162" y="113">demand</text><text x="163" y="122">Quantity of Output</text><text x="88" y="123">Natural rate</text><text x="93" y="131">of output</text><path class="l" d="M43 8V115H220"/><path class="gr" d="M106 18V115"/><path class="bl" d="M65 105L165 40M46 44L155 115"/><path class="rd" d="M30 90H92M92 75L90 105M60 105L155 50M130 45L170 55M85 125V138M75 70H100"/><text x="33" y="95" style="font-size:18px;fill:#d8352a">P₁</text><text x="170" y="48" style="font-size:15px;fill:#d8352a">SRAS</text><text x="120" y="100" style="font-size:13px;fill:#d8352a">AD</text><circle cx="106" cy="80" r="2" fill="#111"/></g>
<g id="sraslr"><rect class="n" x="887" y="1393" width="491" height="172"/><text class="b" x="893" y="1414">SRAS下降在long run的影响</text><text class="r" x="893" y="1434">最终PL上升， real output不会有任何变化</text><text x="893" y="1454">原因：SRAS下降导致经济进入Recession，PL上升，real output下降，wages</text><text x="893" y="1474">也会跟随PL上升，造成公司成本增加，SRAS进一步左移（wage-price</text><text x="893" y="1494">spiral）。但随着时间推移(long run)，低产量和高失业的状况会让工人调整预</text><text x="893" y="1514">期，接受工资下降，下降的工资降低了公司的成本，公司又会重新扩大生产，</text><text x="893" y="1534">SRAS 重新右移，output回升，PL下降，经济逐渐回到长期均衡点。</text><text x="893" y="1554">PL的调整具有滞后性，所以output回到均衡点后，PL相比原来是increase的。</text></g>
<g class="g f7" transform="translate(592,1397)"><rect class="n" width="268" height="164"/><rect x="6" y="6" width="256" height="152" fill="#c6d6f8"/><text x="23" y="17">Price</text><text x="21" y="26">Level</text><text x="125" y="22">Long-run</text><text x="123" y="30">aggregate</text><text x="128" y="39">supply</text><text x="190" y="38">Short-run</text><text x="188" y="47">aggregate</text><text x="193" y="56">supply</text><text x="9" y="89">Equilibrium</text><text x="30" y="99">price</text><text x="187" y="121">Aggregate</text><text x="187" y="131">demand</text><text x="192" y="142">Quantity of Output</text><text x="106" y="142">Natural rate</text><text x="112" y="152">of output</text><path class="l" d="M52 10V136H260"/><path class="gr" d="M125 28V136"/><path class="bl" d="M78 122L185 48M56 42L182 131"/><path class="rd" d="M60 70Q120 45 165 20M72 65H100M72 65V135M95 70V135M52 90H125"/><text x="150" y="22" style="font-size:14px;fill:#d8352a">SRAS</text><text x="135" y="30" style="font-size:13px;fill:#d8352a">SRAS</text><circle cx="125" cy="90" r="3" fill="#111"/></g>
<g id="adl"><rect class="n" x="1404" y="1463" width="139" height="32"/><text x="1410" y="1484">AD/AS Long run影响</text></g>
<g id="lrs"><rect class="n" x="941" y="1573" width="437" height="112"/><use href="#flag" x="949" y="1621" width="16" height="16"/><text x="975" y="1594">Long run总结：</text><text x="975" y="1614">- AD increase（右移）, PL increase，output unchanged</text><text x="975" y="1634">- AD decrease（左移），PL decrease，output unchanged</text><text x="975" y="1654">- SRAS increase（右移），PL decrease，output unchanged</text><text x="975" y="1674">- SRAS decrease（左移），PL increase，output unchanged</text></g>
<g id="phil"><rect class="n" x="1329" y="2077" width="214" height="52"/><text class="b" x="1335" y="2098">The Philips curve 菲利普斯曲线</text><text x="1335" y="2118">通胀率和失业率之间的关系</text></g>
<g id="srpc"><rect class="n" x="1030" y="1691" width="273" height="204"/><text x="1036" y="1712">Short run Philips curve（SRPC）</text></g>
<g class="g f7" transform="translate(1035,1729)"><rect width="261" height="160" fill="#c6d6f8"/><text x="3" y="7" style="font-weight:700">Inflation</text><text x="3" y="17" style="font-weight:700">rate %</text><text x="107" y="12" style="font-weight:700">Phillips Curve</text><text x="17" y="34">8%</text><text x="17" y="50">7%</text><text x="17" y="66">6%</text><text x="17" y="81">5%</text><text x="17" y="97">4%</text><text x="17" y="113">3%</text><text x="17" y="130">2%</text><text x="64" y="151">3%  4%  5%  6%  7%  8%</text><text x="178" y="153">Unemployement Rate %</text><text x="75" y="80" style="fill:#b02020">B</text><text x="112" y="120" style="fill:#b02020">A</text><path d="M37 15V146H170" stroke="#111" stroke-width="1.200" fill="none"/><path d="M64 40Q75 120 171 142" stroke="#111" fill="none"/><path class="d" d="M37 79H70V146M37 125H108V146"/><path d="M118 115L86 77M86 77L92 80M86 77L87 84" stroke="#c03040" stroke-width="1.500" fill="none"/></g>
<g id="neg"><rect class="n" x="582" y="1737" width="422" height="112"/><text x="588" y="1758">通胀率和失业率<tspan class="b">负相关。</tspan></text><text x="588" y="1778">- 通胀率上升，失业率会下降。理解：通胀代表商品价格上升，企</text><text x="588" y="1798">业有利可图会加大生产，雇佣更多人。</text><text x="588" y="1818">- 失业率上升，通胀率会下降。理解：大量人失业，工人会接受更</text><text x="588" y="1838">低的工资，产品成本降低，商品价格降低。</text></g>
<g id="lrpc"><rect class="n" x="1091" y="1903" width="212" height="176"/><text x="1097" y="1924">Long run Philips curve（LRPC）</text></g>
<g class="g f5" transform="translate(1097,1941)"><rect width="200" height="132" fill="#fff"/><text x="3" y="10">Inflation</text><text x="7" y="16">rate</text><text x="80" y="20" style="fill:#c03030">LRPC</text><text x="82" y="128">U_n</text><text x="143" y="128">unemployment rate</text><path class="l" d="M29 6V119H165"/><path d="M86 24V119" stroke="#b04040" stroke-width="1.300"/></g>
<g id="lrt"><rect class="n" x="681" y="1955" width="385" height="72"/><text x="687" y="1976"><tspan class="b">LRPC是一条垂直直线，</tspan>因为长期来看，经济会一直处于充分</text><text x="687" y="1996">就业状态full employment，所以失业率保持在自然失业率</text><text x="687" y="2016">nature rate of unemployment，不论通胀率如何变化。</text></g>
<g id="mov"><rect class="n" x="1097" y="2168" width="206" height="32"/><text x="1103" y="2189">Movement along the SRPC点移</text></g>
<g id="adpink"><rect class="p" x="697" y="2087" width="375" height="194"/><text class="w" x="703" y="2108">AD曲线的shift（线移），会造成SRPC的点移。</text><rect x="703" y="2125" width="363" height="150" fill="#fff"/></g>
<g class="g f7" transform="translate(703,2125)"><text x="82" y="14">LRAS</text><text x="125" y="39">SRAS</text><text x="11" y="48" transform="rotate(-90 11 48)">Price</text><text x="18" y="48" transform="rotate(-90 18 48)">Level</text><text x="14" y="56">P₁</text><text x="14" y="71">P</text><text x="152" y="106">AD₁</text><text x="147" y="125">AD</text><text x="91" y="142">Y_FE Y₁</text><text x="127" y="141">Real</text><text x="125" y="151">Output</text><text x="220" y="25">SRPC</text><text x="200" y="92">P₁</text><text x="200" y="115">P</text><text x="236" y="135">U₁</text><text x="268" y="135">U_NR</text><text x="262" y="147">Rate of Unemployment (%)</text><path class="l" d="M26 17V139H150M212 12V148M212 117H355"/><path d="M93 15V139" stroke="#d8352a" fill="none"/><path class="rd" d="M50 115L130 38M227 25Q240 120 340 139"/><path class="bl" d="M46 27L128 112M68 18L150 103"/><path class="d" d="M26 58H107V139M26 73H92M212 90H245V117"/><circle cx="92" cy="73" r="3.500" fill="#5bb560"/><circle cx="107" cy="58" r="3.500" fill="#5bb560"/><circle cx="245" cy="90" r="4" fill="#5bb560"/><circle cx="271" cy="117" r="4" fill="#5bb560"/><path class="rd" d="M14 58V75M262 95L250 85M255 123H270M206 100V88" stroke-width="1.500"/><path d="M68 42L60 50M136 92L128 100" stroke="#2a6a7a" stroke-width="3"/><path d="M92 150H112" stroke="#4ba04b" stroke-width="3"/></g>
<g id="adtxt"><rect class="n" x="245" y="2118" width="426" height="132"/><text x="251" y="2139">- AD曲线左移时，向下移，即通胀率↓，output下降，则雇佣工人</text><text x="251" y="2159">减少，失业率增大。在SRPC曲线上，向右下点移动 movement</text><text x="251" y="2179">to the right along SRPC。</text><text x="251" y="2199">- AD曲线右移时，向上升，即通胀率↑，output上升，则雇佣工人</text><text x="251" y="2219">增多，失业率下降。在SRPC曲线上，向左上点移动, movement</text><text x="251" y="2239">to the left along SRPC。</text></g>
<g id="shf"><rect class="n" x="1142" y="2396" width="161" height="32"/><text x="1148" y="2417">Shifts in the SRPC线移</text></g>
<g id="aspink"><rect class="p" x="724" y="2288" width="402" height="255"/><text class="w" x="730" y="2309">AS曲线的线移，会造成SRPC的线移</text><rect x="730" y="2327" width="390" height="210" fill="#fff"/></g>
<g class="g f9" transform="translate(730,2327)"><text x="30" y="16" style="font-weight:700">(a) The Model of Aggregate</text><text x="30" y="28" style="font-weight:700">Demand and Aggregate Supply</text><text x="253" y="16" style="font-weight:700">(b) The Phillips Curve</text><rect x="46" y="40" width="80" height="22" fill="#fbf7c0"/><rect x="256" y="36" width="108" height="42" fill="#fbf7c0"/><text x="48" y="48">3. ...and raises the</text><text x="48" y="58">price level...</text><text x="258" y="46">4. ...creating a less</text><text x="258" y="56">favorable tradeoff</text><text x="258" y="66">between unemployment</text><text x="258" y="76">and inflation.</text><text x="12" y="50">Price</text><text x="12" y="60">Level</text><text x="190" y="50">Inflation</text><text x="200" y="60">Rate</text><text x="100" y="76">AS₂</text><text x="126" y="76">Aggregate</text><text x="128" y="87">supply, AS₁</text><text x="120" y="170">Aggregate</text><text x="122" y="181">demand</text><text x="30" y="198">0</text><text x="120" y="200">Quantity of Output</text><text x="195" y="198">0</text><text x="300" y="200">Unemployment Rate</text><text x="325" y="140">PC₂</text><text x="325" y="165">PC₁</text><path class="l" d="M37 40V190H180M225 40V190H375"/><path class="l" d="M50 165L125 90M65 170L140 95M55 80L150 170M240 100Q270 165 320 170M240 75Q270 140 320 145"/><path class="d" d="M37 125H88V190M37 110H75V190M225 130H262V190M225 105H250V190"/></g>
<g id="astxt"><rect class="n" x="270" y="2340" width="428" height="112"/><text x="276" y="2361">- AS↓（左移），PL↑，通胀率↑，real output↓，失业率↑，SRPC</text><text x="276" y="2381">shift to the right，</text><text x="276" y="2401">这种通胀率上升、失业率也上升，也叫做stagflation滞涨。</text><text x="276" y="2421">- AS↑（右移），PL↓，通胀率↓，real output↑，unemployment</text><text x="276" y="2441">rate↓，SRPC shift to the left</text></g>
<g id="f1"><rect class="n" x="1144" y="2572" width="305" height="52"/><text x="1150" y="2593">定义：金融体系就是在经济中帮助储蓄Saving和</text><text x="1150" y="2613">投资Investment相匹配的一组机构。</text></g>
<g id="f2"><rect class="n" x="1381" y="2680" width="68" height="32"/><text x="1387" y="2701">金融机构</text></g>
<g id="f3"><rect class="n" x="933" y="2630" width="422" height="132"/><text class="b" x="939" y="2651">Bonds债券：</text><text x="947" y="2671">负债证明，不需要出让股份，但要到期还利息。</text><text class="b" x="939" y="2691">Stock股票：</text><text x="947" y="2711">不需要还利息，但要出让一部分公司所有权，每年给股东分红。</text><text class="b" x="939" y="2731">Commercial bank商业银行</text><text x="947" y="2751">使储蓄者可以间接向借款人提供资金的金融中介机构。</text></g>
<g id="f4"><rect class="n" x="1211" y="2865" width="238" height="32"/><text x="1217" y="2886">Loanable funds market可贷资金市场</text></g>
<g id="f5"><rect class="n" x="962" y="2768" width="223" height="72"/><use href="#flag" x="970" y="2796" width="16" height="16"/><text x="998" y="2789">储蓄是可贷资金<tspan class="b">供应</tspan>的来源；</text><text x="998" y="2809"><tspan class="b">投资</tspan>是可贷资金<tspan class="b">需求</tspan>的来源；</text><text x="998" y="2829">利率是贷款的价格；</text></g>
<g id="f6"><rect class="n" x="889" y="2869" width="296" height="178"/><text x="895" y="2890">loanable supply 和 loanable demand的交点，</text><text x="895" y="2910">Real interest rate（re） 就是均衡时利率。</text></g>
<g class="g f5" transform="translate(894,2927)"><rect width="172" height="114" fill="#edfdfd"/><text x="13" y="8" style="font-family:'Liberation Mono',monospace;font-size:6px">Real</text><text x="3" y="17" style="font-family:'Liberation Mono',monospace;font-size:6px">Interest</text><text x="13" y="26" style="font-family:'Liberation Mono',monospace;font-size:6px">Rate</text><text x="25" y="50">Re</text><text x="148" y="11" style="fill:#3aa">Supply</text><text x="145" y="86" style="fill:#3aa">Demand</text><text x="96" y="110" style="fill:#3aa">Qe</text><text x="135" y="110" style="fill:#3aa">Q of LF</text><path d="M36 3V103H165" stroke="#14506a" stroke-width="1.300" fill="none"/><path d="M51 92L146 10M51 11L140 86" stroke="#4ac0ea" stroke-width="1.300" fill="none"/><path d="M36 49H99V103" fill="none" stroke="#c040a0" stroke-dasharray="1 2" stroke-width=".7"/></g>
<g id="f7"><rect class="n" x="552" y="2848" width="311" height="220"/><text class="b" x="558" y="2869">loanable supply线移动</text><text x="558" y="2889">由于Budget deficit财政赤字，导致市场可贷资金</text><text x="558" y="2909">减少，loanable supply向内线移，利率上升。</text></g>
<g class="g f4" transform="translate(558,2926)"><rect width="176" height="135" fill="#fff"/><text x="36" y="7">Real</text><text x="35" y="12">interest</text><text x="39" y="17">rate</text><text x="118" y="6">supply S₁</text><text x="123" y="27">1. A budget deficit</text><text x="123" y="33">decreases the supply</text><text x="123" y="39">of loanable funds...</text><text x="137" y="67">Demand</text><text x="8" y="57">2. ...which</text><text x="8" y="63">raises the</text><text x="8" y="69">equilibrium</text><text x="8" y="75">interest rate...</text><text x="62" y="104">$800</text><text x="88" y="104">$1,200</text><text x="158" y="109">Loanable</text><text x="142" y="116">Funds (in billions of dollars)</text><rect x="52" y="111" width="66" height="20" fill="#e4e4e4"/><text x="56" y="119">3. ...and reduces the equilibrium</text><text x="56" y="126">quantity of loanable funds.</text><path class="l" d="M46 3L38 100H173M45 10L118 60M57 13L138 72M44 60L88 5M57 70L105 10M58 50V98M78 38V98"/></g>
<g id="f8"><rect class="n" x="1138" y="3074" width="311" height="104"/><text class="b" x="1144" y="3095">Crowding out 挤出效应</text><text x="1144" y="3115">当政府开始借钱，推高了利率，而挤走了private</text><text x="1144" y="3135">借钱的需求（C和I的需求）。</text><text x="1144" y="3153">a <tspan class="b">decrease in investment</tspan> that results from</text><text class="b" x="1144" y="3170">government borrowing<tspan style="font-weight:400">.</tspan></text></g>
<g id="p1"><rect class="n" x="1140" y="3214" width="341" height="51"/><use href="#flag" x="1147" y="3231" width="16" height="16"/><text x="1175" y="3234">定义：政府通过调整<tspan class="b">Tax和Government</tspan></text><text x="1175" y="3254"><tspan class="b">Spending</tspan>去影响output/price level/employment</text></g>
<g id="p2"><rect class="n" x="1263" y="3310" width="218" height="52"/><text x="1269" y="3331">财政收入：Tax</text><text x="1269" y="3351">财政支出：Government spending</text></g>
<g id="p3"><rect class="n" x="1022" y="3271" width="215" height="52"/><text x="1028" y="3292">surplus财政盈余：Tax&gt;Spending</text><text x="1028" y="3312">deficit财政赤字：Tax&lt;Spending</text></g>
<g id="p4"><rect class="n" x="935" y="3331" width="302" height="85"/><text class="b" x="941" y="3352">Expansionary fiscal policy (扩张政策)</text><text x="965" y="3370">Increase Spending, Decrease Tax.</text><text class="b" x="941" y="3388">Contractionary fiscal policy（紧缩政策）</text><text x="965" y="3406">Decrease Spending, Increase Tax.</text></g>
<g id="p5"><rect class="n" x="1349" y="3441" width="132" height="29"/><text x="1355" y="3460">Spending multiplier</text></g>
<g id="p6"><rect class="n" x="1066" y="3423" width="257" height="65"/><text x="1072" y="3444">指Spending的变化量对AD变化量的乘数</text><rect x="1072" y="3461" width="199" height="22" fill="#fff"/><text x="1076" y="3478">Spending multiplier = 1/(1-MPC)</text></g>
<g id="p7"><rect class="n" x="1385" y="3512" width="96" height="29"/><text x="1391" y="3531">Tax multiplier</text></g>
<g id="p8"><rect class="n" x="1060" y="3495" width="299" height="64"/><text x="1066" y="3516">指Tax的变化量对AD变化量的乘数</text><rect x="1066" y="3534" width="287" height="19" fill="#fff"/><text x="1068" y="3549">Tax multiplier = -MPC/MPS = -MPC/(1-MPC)</text></g>
<g id="p9"><rect class="n" x="1385" y="3670" width="96" height="32"/><text x="1391" y="3691">其他财政政策</text></g>
<g id="p10"><rect class="n" x="1164" y="3566" width="195" height="111"/><text x="1170" y="3587"><tspan class="b">Supply-side</tspan>供应端货币政策</text><text x="1170" y="3606">- 降低企业税</text><text x="1170" y="3626">- 减少管制/减少政府行政官卡</text><text x="1170" y="3646">- 增加劳动力市场灵活度</text><text x="1170" y="3666">- 国有资产私有化</text></g>
<g id="p11"><rect class="n" x="1013" y="3685" width="346" height="132"/><text class="b" x="1019" y="3706">government increase borrowing 政府增加借款</text><text x="1019" y="3726">政府通过<tspan class="b">发行债券</tspan>的形式筹集资金，会增加政府的债</text><text x="1019" y="3746">务规模（debt），筹集的资金可用于弥补赤字，或用</text><text x="1019" y="3766">于政府spending。</text><text x="1019" y="3786">借款可以<tspan class="b">短期刺激经济</tspan>，但是也会让市场上资金紧</text><text x="1019" y="3806">张，导致利率上升。</text></g>
<g id="p12"><rect class="n" x="736" y="3715" width="251" height="72"/><use href="#flag" x="744" y="3743" width="16" height="16"/><text x="771" y="3736" class="b">Crowding out挤出效应</text><text x="771" y="3756">当政府开始借钱，<tspan class="b">推高了利率</tspan>，而</text><text x="771" y="3776">挤走了C和I的需求</text></g>
<g id="ms"><rect class="n" x="1374" y="3942" width="101" height="29"/><text x="1380" y="3961">Money Supply</text></g>
<g id="m1n"><rect class="n" x="740" y="3852" width="608" height="72"/><use href="#flag" x="748" y="3880" width="16" height="16"/><text x="775" y="3873"><tspan class="b">M1</tspan> = <tspan class="b">currency</tspan>（现金） + <tspan class="b">Demand deposit</tspan>（活期存款）+ <tspan class="b">Traveler's check</tspan>（旅行支票）</text><text x="775" y="3893">+ <tspan class="b">Saving deposits</tspan>（储蓄存款/短期定存）+ other checkable deposits</text><text class="r" x="775" y="3913">特别注意：活期存款和短期定存 属于 M1</text></g>
<g id="m2n"><rect class="n" x="744" y="3932" width="604" height="49"/><use href="#flag" x="752" y="3949" width="16" height="16"/><text x="779" y="3951"><tspan class="b">M2 = M1 + Small time deposits</tspan> + Money market mutual funds + A few minor categories</text><text x="779" y="3970">M2可以理解成 M1 + 小额长期定存</text></g>
<g id="m3n"><rect class="n" x="960" y="3989" width="388" height="65"/><text x="966" y="4008"><tspan class="b">M3</tspan> = M2 + Large(over 100,000) time deposits.</text><text x="966" y="4027">M3可以理解成 M2+大额长期定存</text></g>
<g id="mme"><rect class="n" x="1302" y="4173" width="173" height="29"/><text x="1308" y="4192">Money Market Equilibrium</text></g>
<g id="mmn"><rect class="n" x="976" y="4060" width="300" height="254"/><text x="982" y="4246">1. <tspan class="b">Money supply是一条垂直线</tspan>，因为货币供应</text><text x="982" y="4266">由央行（Fed）决定，不由利率决定</text><text x="982" y="4285">2. Money supply/demand curve交点利率就是</text><text x="982" y="4303">Equilibrium interest</text></g>
<g class="g f5" transform="translate(982,4066)"><rect width="233" height="152" fill="#eafdfd"/><rect y="0" width="233" height=".7" fill="#4ac0ea"/><text x="5" y="9" style="font-weight:700">Interest</text><text x="13" y="16" style="font-weight:700">Rate</text><text x="22" y="72">r₁</text><text x="0" y="88">Equilibrium</text><text x="4" y="96">interest</text><text x="16" y="104">rate</text><text x="22" y="116">r₂</text><text x="24" y="141">0</text><text x="74" y="141">M₁ˢ</text><text x="105" y="141">Quantity fixed</text><text x="110" y="148">by the Fed</text><text x="162" y="141">M₂ˢ</text><text x="190" y="141" style="font-weight:700">Quantity of</text><text x="200" y="148" style="font-weight:700">Money</text><text x="126" y="30" style="fill:#2a8ad0">Money</text><text x="126" y="37" style="fill:#2a8ad0">supply</text><text x="199" y="119" style="fill:#2a8ad0">Money</text><text x="199" y="126" style="fill:#2a8ad0">demand</text><path class="l" d="M31 5V135H220"/><path d="M124 25V135" stroke="#1c7ac8" stroke-width="1.300"/><path d="M43 56L196 124" stroke="#1c7ac8" stroke-width="1.300"/><path class="d" d="M31 71H77V135M31 92H124M31 110H168V135" style="stroke:#9ccfcf"/><circle cx="77" cy="71" r="1.500"/><circle cx="168" cy="110" r="1.500"/></g>
<g id="rsv"><rect class="n" x="1362" y="4390" width="113" height="32"/><text x="1368" y="4411">Reserves 准备金</text></g>
<g id="r1"><rect class="n" x="1100" y="4320" width="236" height="52"/><use href="#star" x="1107" y="4338" width="16" height="16"/><text x="1134" y="4341" class="b">Reserves准备金</text><text x="1134" y="4361">指银行没有贷出去的用户的存款</text></g>
<g id="r2"><rect class="n" x="1170" y="4380" width="166" height="52"/><text x="1176" y="4401" class="b">Reserve ratio 准备金率</text><text x="1176" y="4421">指准备金占总存款的比例</text></g>
<g id="r3"><rect class="n" x="886" y="4440" width="450" height="92"/><use href="#star" x="893" y="4478" width="16" height="16"/><text x="921" y="4461" class="b">Required Reserves 法定准备金</text><text x="921" y="4481">银行在每个交易日结束都必须满足存款准备金率要求。</text><text x="921" y="4501">比如银行的用户总存款100万，央行要求准备金率10%，那么银行</text><text x="921" y="4521">每天都必须满足有100万*10%=10万必须放在账上不能贷出去。</text></g>
<g id="bs"><rect class="n" x="1262" y="4543" width="212" height="116"/><text x="1268" y="4564">银行资产负载表</text><rect x="1269" y="4581" width="199" height="73" fill="#e4fbfd"/><text x="1302" y="4596" style="font-size:12px;font-weight:700;fill:#1a7ad8">FIRST NATIONAL BANK</text><text x="1299" y="4614" style="font-size:11px;font-weight:700;fill:#1a7ad8">Assets</text><text x="1392" y="4614" style="font-size:11px;font-weight:700;fill:#1a7ad8">Liabilities</text><path d="M1272 4618H1466M1372 4618V4652" stroke="#5bb5e0" fill="none"/><text x="1272" y="4631" style="font-size:11px;fill:#445">Reserves</text><text x="1337" y="4631" style="font-size:11px;fill:#445">$  10</text><text x="1375" y="4631" style="font-size:11px;fill:#445">Deposits</text><text x="1440" y="4631" style="font-size:11px;fill:#445">$100</text><text x="1272" y="4649" style="font-size:11px;fill:#445">Loans</text><text x="1337" y="4649" style="font-size:11px;fill:#445">$  90</text></g>
<g id="bs2"><rect class="n" x="932" y="4538" width="304" height="125"/><text x="938" y="4559">解读：</text><text x="938" y="4579">储户在银行存款100元（deposit），银行就负债</text><text x="938" y="4599">了100元（Liabilities），表格中银行资产Assets</text><text x="938" y="4619">包括10元的准备金+90元对外的贷款。</text><text x="938" y="4637">Bank's Liabilities = deposits</text><text x="938" y="4655">Bank's Assets = Loans + Reserves</text></g>
<g id="mult"><rect class="n" x="979" y="4669" width="495" height="166"/><rect x="984" y="4675" width="169" height="22" fill="#fff"/><text x="990" y="4691" style="fill:#111">money multiplier = 1/R</text><text class="b" x="985" y="4724">货币乘数 Money multiplier</text><text x="985" y="4744">由于银行贷出去的钱可以再被用户存入银行，因此只要准备金率不是100%就可</text><text x="985" y="4764">以创造货币。</text><text x="985" y="4784">Money multiplier就是银行用1块钱准备金能够创造的货币数量。</text><text x="985" y="4804">比如，require reserve ratio 20%，100元存入银行能创造多少货币？</text><text x="991" y="4824">money multiplier = 1/R = 5， 100*5 = 500。</text></g>
<g id="mp"><rect class="n" x="1305" y="5271" width="169" height="32"/><text x="1311" y="5292">Monetary Policy货币政策</text></g>
<g id="mp1"><rect class="n" x="941" y="4881" width="338" height="52"/><text class="b" x="947" y="4902">定义：央行采取措施影响货币供应来影响利率/ Price</text><text x="947" y="4922"><tspan class="b">level / output</tspan>的行为，称为货币政策</text></g>
<g id="mp2"><rect class="n" x="410" y="4841" width="505" height="132"/><text class="b" x="416" y="4862">Expansionary monetary policy 扩张货币政策</text><text x="416" y="4882">当经济处于recession，会实施扩张货币政策，增加money supply，拉动经济。</text><text x="416" y="4902">（PL increase，output increase，interest decrease）</text><text class="b" x="416" y="4922">Contractionary monetary policy 紧缩货币政策</text><text x="416" y="4942">当经济处过热，会实施紧缩货币政策，减少money supply，经济降温。（PL</text><text x="416" y="4962">decrease，output decrease，interest increase）</text></g>
<g id="tools"><rect class="p" x="1118" y="5139" width="161" height="32"/><text class="w" x="1124" y="5160">央行的3个货币政策工具</text></g>
<g id="omo"><rect class="n" x="711" y="4981" width="381" height="132"/><text x="717" y="5002"><tspan class="b">Open-Market Operations</tspan>（OMO）</text><text x="717" y="5022">指央行在公开市场buy/sale政府债券</text><text x="717" y="5042">1. 当Fed <tspan class="b">buy bonds</tspan>，相当于给市场注入资金，资金可以存</text><text x="717" y="5062">入商业银行再loan出去，增加了money supply。</text><text x="717" y="5082">2. 当Fed <tspan class="b">sale bonds</tspan>，相当于从市场抽离资金，减少了</text><text x="717" y="5102">money supply。</text></g>
<g id="ffr"><rect class="n" x="210" y="4981" width="475" height="132"/><text class="b" x="216" y="5002">Federal funds rate（FFR）</text><text x="216" y="5022">指商业银行之间相互借钱的利率（当准备金不足时会向其他银行借钱）</text><text x="216" y="5042">1. 当Fed买入债券，银行的准备金增加，FFR降低，<tspan class="b">interest rate也降低。</tspan></text><text x="216" y="5062">（市场上的钱多了，自然吸引存款的利率就降低了）</text><text x="216" y="5082">2. 当Fed卖出债券，银行准备金减少，FFR增加，<tspan class="b">interest rate也增加。</tspan></text><text x="216" y="5102">（市场上钱少了，提高利率吸引储户存款）</text></g>
<g id="rr"><rect class="n" x="778" y="5121" width="314" height="69"/><text x="784" y="5140">Changing the <tspan class="b">require reserve rate</tspan></text><text x="784" y="5160">1. 当increase准备金率，减少了money supply。</text><text x="784" y="5180">2. 当decrease准备金绿，增加了money supply。</text></g>
<g id="dr"><rect class="n" x="596" y="5198" width="496" height="89"/><text x="602" y="5217">Changing the <tspan class="b">discount rate</tspan></text><text class="b" x="602" y="5237">discount rate：指商业银行向央行借钱的利率。</text><text x="602" y="5257">1. 当降低discount rate，鼓励了商业银行从央行借钱，增加money supply。</text><text x="602" y="5277">2. 当升高discount rate，商业银行会减少从央行借钱，减少了money supply。</text></g>
<g id="lim"><rect class="n" x="1094" y="5315" width="185" height="32"/><text x="1100" y="5336">Limited Reserves限额准备金</text></g>
<g id="lim1"><rect class="n" x="671" y="5295" width="396" height="72"/><text x="677" y="5316">各家银行的准备金是有限的，央行使用传统的3个货币政策对</text><text x="677" y="5336">准备金进行调节，以改变货币供应量，从而对interest rate产生</text><text x="677" y="5356">有效影响。</text></g>
<g id="amp"><rect class="p" x="1091" y="5651" width="188" height="32"/><text class="w" x="1097" y="5672">Ample Reserves充足准备金</text></g>
<g id="a1"><rect class="n" x="670" y="5375" width="394" height="52"/><text x="676" y="5396">在充足准备金下，各家银行有足够的reserves，因此改变银行</text><text x="676" y="5416">的reserves无法对interest rate带来有效改变，需要新的工具。</text></g>
<g id="a2"><rect class="n" x="50" y="5435" width="586" height="92"/><text x="56" y="5456"><tspan class="b">Policy rate：指一组央行能够控制/调节的利率。</tspan>比如商业银行从央行获取资金的利率</text><text x="56" y="5476">（<tspan class="b">Discount Rate</tspan>），或者商业银行存储在央行的超额准备金的利率（<tspan class="b">Interest on</tspan></text><text x="56" y="5496"><tspan class="b">Reserves</tspan>）。当PR降低（无论是央行需要支付的超额准备金利率，还是商业银行从央行借款</text><text x="56" y="5516">的利率），都是增加了money supply。</text></g>
<g id="a3"><rect class="n" x="339" y="5535" width="297" height="52"/><text x="345" y="5556"><tspan class="b">Supply of Reserve是一条vertical线</tspan>，是因为</text><text x="345" y="5576">reserve的供应是央行控制。</text></g>
<g id="a4"><rect class="n" x="447" y="5716" width="189" height="31"/><text x="453" y="5736">Demand of Reserve分为三段</text></g>
<g id="a5"><rect class="n" x="54" y="5595" width="367" height="92"/><text x="60" y="5616">第一段，左侧横线部分</text><text x="60" y="5636"><tspan class="b">Policy rate=discount rate</tspan>，discount rate是policy rate</text><text x="60" y="5656">的上限，在这个利率下增加reserve供应量，demand</text><text x="60" y="5676">curve是水平直线状态。</text></g>
<g id="a6"><rect class="n" x="57" y="5695" width="364" height="72"/><text x="63" y="5716">第二段，中间的下降部分，表示<tspan class="b">Limited Reserves</tspan>，银行</text><text x="63" y="5736">缺乏足够的reserve，随着policy rate得下降，银行获取</text><text x="63" y="5756">reserve的成本降低，reserve需求量增加</text></g>
<g id="a7"><rect class="n" x="57" y="5775" width="364" height="52"/><text x="63" y="5796">第三段，右侧横线部分，表示<tspan class="b">Ample Reserves</tspan>，银行拥</text><text x="63" y="5816">有足够的reserve，继续增加reserve无法带来更多的利益</text></g>
<g class="g f7" transform="translate(662,5532)"><rect class="n" width="402" height="148"/><rect x="6" y="6" width="360" height="136" fill="#fbfcf9"/><text x="7" y="32" style="font-family:'Liberation Serif',serif;font-size:10px">Policy Rate</text><text x="190" y="28" style="font-family:'Liberation Serif',serif;font-size:10px">Policy Rate</text><text x="73" y="17" style="fill:#3aa">Limited</text><text x="72" y="24" style="fill:#3aa">Reserves</text><text x="251" y="12" style="fill:#3aa">Ample</text><text x="250" y="19" style="fill:#3aa">Reserves</text><text x="120" y="32">S_R</text><text x="307" y="29">S_R</text><text x="35" y="103">PR₁</text><text x="217" y="100">PR₁</text><text x="158" y="111">D_R</text><text x="343" y="107">D_R</text><text x="135" y="129" style="font-size:9px">Quantity of</text><text x="143" y="138" style="font-size:9px">Reserves</text><text x="320" y="127" style="font-size:9px">Quantity of</text><text x="330" y="136" style="font-size:9px">Reserves</text><path class="l" d="M52 22V122H175M236 22V120H362"/><path d="M52 63H76L97 102H168" fill="none" stroke="#777" stroke-width="1.500"/><path d="M236 60H260L286 100H358" fill="none" stroke="#222" stroke-width="1"/><path d="M125 30V118M312 30V118" stroke="#333" stroke-width=".8"/><path class="d" d="M52 102H97M76 63H165M236 100H286M260 60H358"/><rect x="76" y="24" width="20" height="93" fill="none" stroke="#6ab8d8" stroke-width=".7"/><rect x="284" y="21" width="72" height="97" fill="none" stroke="#6ab8d8" stroke-width=".7"/></g>
<g id="a8"><rect class="n" x="762" y="5917" width="302" height="33"/><use href="#flag" x="769" y="5926" width="16" height="16"/><text x="796" y="5939">Ample Reserves下的Monetary policy tools</text></g>
<g id="a9"><rect class="n" x="266" y="5835" width="470" height="92"/><text class="b" x="272" y="5856">Administered Interest Rates，包含两个可以调整的部分：</text><text x="272" y="5876">1. Interest on Reserves：商业银行在央行存的超额准备金(reserve)获得的利</text><text x="272" y="5896">率。改变IOR可以控制policy rate的下限</text><text x="272" y="5916">2.Discount Rate：控制policy rate的上限。</text></g>
<g class="g f5" transform="translate(286,5935)"><rect class="n" width="211" height="102"/><rect x="6" y="6" width="199" height="90" fill="#fff"/><text x="9" y="13">An <tspan style="fill:#d03030">increase</tspan> in administered</text><text x="9" y="20">interest rates [interest on</text><text x="9" y="28">reserves and the discount</text><text x="9" y="35">rate] leads to an increase in</text><text x="9" y="43">the policy rate and,</text><text x="9" y="50">subsequently, an increase</text><text x="9" y="58">in other nominal interest</text><text x="9" y="65">rates – so this is a</text><text x="9" y="72" style="fill:#d03030">contractionary<tspan style="fill:#333"> policy</tspan></text><text x="9" y="80">because interest-sensitive</text><text x="9" y="87">spending and AD will</text><text x="9" y="94" style="fill:#d03030">decrease.</text><text x="94" y="22">Policy Rate</text><text x="167" y="21">S_R</text><text x="113" y="60">PR₂</text><text x="113" y="68">PR₁</text><text x="193" y="61">D_R</text><text x="177" y="81">Quantity of</text><text x="182" y="87">Reserves</text><path class="l" d="M123 14V78H198"/><path d="M123 29H140L153 62H195" fill="none" stroke="#222" stroke-width=".8"/><path d="M171 22V78" stroke="#555" stroke-width=".6"/><path class="d" d="M123 52H195M140 29H198"/></g>
<g class="g f5" transform="translate(524,5935)"><rect class="n" width="212" height="102"/><rect x="6" y="6" width="200" height="90" fill="#fff"/><text x="7" y="14">A <tspan style="fill:#2a9a50">decrease</tspan> in administered</text><text x="7" y="21">interest rates (interest on</text><text x="7" y="29">reserves and the discount</text><text x="7" y="36">rate) leads to a decrease in</text><text x="7" y="44">the policy rate and,</text><text x="7" y="51">subsequently, a decrease in</text><text x="7" y="59">other nominal interest rates</text><text x="7" y="66">– so this is an <tspan style="fill:#2a9a50">expansionary</tspan></text><text x="7" y="73">policy because interest-</text><text x="7" y="81">sensitive spending and AD</text><text x="7" y="88">will <tspan style="fill:#2a9a50">increase.</tspan></text><text x="90" y="22">Policy Rate</text><text x="165" y="21">S_R</text><text x="108" y="69">PR₁</text><text x="108" y="77">PR₂</text><text x="192" y="73">D_R</text><text x="175" y="84">Quantity of</text><text x="180" y="90">Reserves</text><path class="l" d="M119 16V82H197"/><path d="M119 34H135L149 72H193" fill="none" stroke="#222" stroke-width=".8"/><path d="M168 22V82" stroke="#555" stroke-width=".6"/><path class="d" d="M119 64H195M135 34H196"/></g>
<g id="foot"><text x="1535" y="6041" style="font-size:35px;font-weight:300;fill:#cfcfcf">Presented with <tspan style="font-weight:700">xmind</tspan></text></g>
</g>
</svg>
